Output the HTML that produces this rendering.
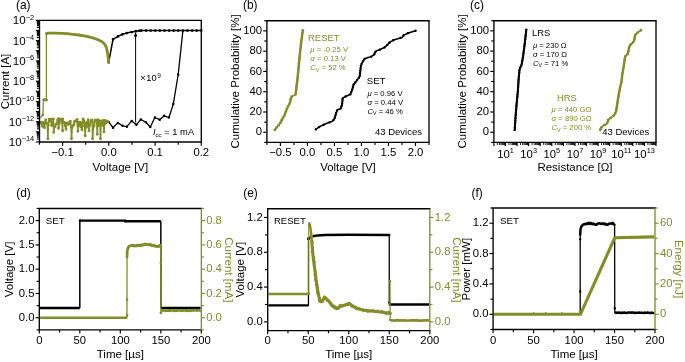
<!DOCTYPE html>
<html><head><meta charset="utf-8"><style>
html,body{margin:0;padding:0;background:#fff;}
svg{display:block;font-family:"Liberation Sans", sans-serif;will-change:transform;}
</style></head><body>
<svg width="685" height="362" viewBox="0 0 685 362">
<rect width="685" height="362" fill="#fff"/>
<text x="16" y="8.9" font-size="11.9" text-anchor="start" fill="#000" >(a)</text>
<line x1="39.5" y1="142" x2="35.83" y2="142" stroke="#000" stroke-width="1.15" stroke-linecap="butt"/>
<line x1="39.5" y1="131.86" x2="35.83" y2="131.86" stroke="#000" stroke-width="1.15" stroke-linecap="butt"/>
<line x1="39.5" y1="121.72" x2="35.83" y2="121.72" stroke="#000" stroke-width="1.15" stroke-linecap="butt"/>
<line x1="39.5" y1="111.59" x2="35.83" y2="111.59" stroke="#000" stroke-width="1.15" stroke-linecap="butt"/>
<line x1="39.5" y1="101.45" x2="35.83" y2="101.45" stroke="#000" stroke-width="1.15" stroke-linecap="butt"/>
<line x1="39.5" y1="91.31" x2="35.83" y2="91.31" stroke="#000" stroke-width="1.15" stroke-linecap="butt"/>
<line x1="39.5" y1="81.18" x2="35.83" y2="81.18" stroke="#000" stroke-width="1.15" stroke-linecap="butt"/>
<line x1="39.5" y1="71.04" x2="35.83" y2="71.04" stroke="#000" stroke-width="1.15" stroke-linecap="butt"/>
<line x1="39.5" y1="60.9" x2="35.83" y2="60.9" stroke="#000" stroke-width="1.15" stroke-linecap="butt"/>
<line x1="39.5" y1="50.76" x2="35.83" y2="50.76" stroke="#000" stroke-width="1.15" stroke-linecap="butt"/>
<line x1="39.5" y1="40.62" x2="35.83" y2="40.62" stroke="#000" stroke-width="1.15" stroke-linecap="butt"/>
<line x1="39.5" y1="30.49" x2="35.83" y2="30.49" stroke="#000" stroke-width="1.15" stroke-linecap="butt"/>
<line x1="39.5" y1="20.35" x2="35.83" y2="20.35" stroke="#000" stroke-width="1.15" stroke-linecap="butt"/>
<line x1="39.5" y1="138.95" x2="36.83" y2="138.95" stroke="#000" stroke-width="1.05" stroke-linecap="butt"/>
<line x1="39.5" y1="137.16" x2="36.83" y2="137.16" stroke="#000" stroke-width="1.05" stroke-linecap="butt"/>
<line x1="39.5" y1="135.9" x2="36.83" y2="135.9" stroke="#000" stroke-width="1.05" stroke-linecap="butt"/>
<line x1="39.5" y1="134.91" x2="36.83" y2="134.91" stroke="#000" stroke-width="1.05" stroke-linecap="butt"/>
<line x1="39.5" y1="134.11" x2="36.83" y2="134.11" stroke="#000" stroke-width="1.05" stroke-linecap="butt"/>
<line x1="39.5" y1="133.43" x2="36.83" y2="133.43" stroke="#000" stroke-width="1.05" stroke-linecap="butt"/>
<line x1="39.5" y1="132.84" x2="36.83" y2="132.84" stroke="#000" stroke-width="1.05" stroke-linecap="butt"/>
<line x1="39.5" y1="132.33" x2="36.83" y2="132.33" stroke="#000" stroke-width="1.05" stroke-linecap="butt"/>
<line x1="39.5" y1="128.81" x2="36.83" y2="128.81" stroke="#000" stroke-width="1.05" stroke-linecap="butt"/>
<line x1="39.5" y1="127.03" x2="36.83" y2="127.03" stroke="#000" stroke-width="1.05" stroke-linecap="butt"/>
<line x1="39.5" y1="125.76" x2="36.83" y2="125.76" stroke="#000" stroke-width="1.05" stroke-linecap="butt"/>
<line x1="39.5" y1="124.78" x2="36.83" y2="124.78" stroke="#000" stroke-width="1.05" stroke-linecap="butt"/>
<line x1="39.5" y1="123.97" x2="36.83" y2="123.97" stroke="#000" stroke-width="1.05" stroke-linecap="butt"/>
<line x1="39.5" y1="123.3" x2="36.83" y2="123.3" stroke="#000" stroke-width="1.05" stroke-linecap="butt"/>
<line x1="39.5" y1="122.71" x2="36.83" y2="122.71" stroke="#000" stroke-width="1.05" stroke-linecap="butt"/>
<line x1="39.5" y1="122.19" x2="36.83" y2="122.19" stroke="#000" stroke-width="1.05" stroke-linecap="butt"/>
<line x1="39.5" y1="118.67" x2="36.83" y2="118.67" stroke="#000" stroke-width="1.05" stroke-linecap="butt"/>
<line x1="39.5" y1="116.89" x2="36.83" y2="116.89" stroke="#000" stroke-width="1.05" stroke-linecap="butt"/>
<line x1="39.5" y1="115.62" x2="36.83" y2="115.62" stroke="#000" stroke-width="1.05" stroke-linecap="butt"/>
<line x1="39.5" y1="114.64" x2="36.83" y2="114.64" stroke="#000" stroke-width="1.05" stroke-linecap="butt"/>
<line x1="39.5" y1="113.84" x2="36.83" y2="113.84" stroke="#000" stroke-width="1.05" stroke-linecap="butt"/>
<line x1="39.5" y1="113.16" x2="36.83" y2="113.16" stroke="#000" stroke-width="1.05" stroke-linecap="butt"/>
<line x1="39.5" y1="112.57" x2="36.83" y2="112.57" stroke="#000" stroke-width="1.05" stroke-linecap="butt"/>
<line x1="39.5" y1="112.05" x2="36.83" y2="112.05" stroke="#000" stroke-width="1.05" stroke-linecap="butt"/>
<line x1="39.5" y1="108.54" x2="36.83" y2="108.54" stroke="#000" stroke-width="1.05" stroke-linecap="butt"/>
<line x1="39.5" y1="106.75" x2="36.83" y2="106.75" stroke="#000" stroke-width="1.05" stroke-linecap="butt"/>
<line x1="39.5" y1="105.48" x2="36.83" y2="105.48" stroke="#000" stroke-width="1.05" stroke-linecap="butt"/>
<line x1="39.5" y1="104.5" x2="36.83" y2="104.5" stroke="#000" stroke-width="1.05" stroke-linecap="butt"/>
<line x1="39.5" y1="103.7" x2="36.83" y2="103.7" stroke="#000" stroke-width="1.05" stroke-linecap="butt"/>
<line x1="39.5" y1="103.02" x2="36.83" y2="103.02" stroke="#000" stroke-width="1.05" stroke-linecap="butt"/>
<line x1="39.5" y1="102.43" x2="36.83" y2="102.43" stroke="#000" stroke-width="1.05" stroke-linecap="butt"/>
<line x1="39.5" y1="101.91" x2="36.83" y2="101.91" stroke="#000" stroke-width="1.05" stroke-linecap="butt"/>
<line x1="39.5" y1="98.4" x2="36.83" y2="98.4" stroke="#000" stroke-width="1.05" stroke-linecap="butt"/>
<line x1="39.5" y1="96.61" x2="36.83" y2="96.61" stroke="#000" stroke-width="1.05" stroke-linecap="butt"/>
<line x1="39.5" y1="95.35" x2="36.83" y2="95.35" stroke="#000" stroke-width="1.05" stroke-linecap="butt"/>
<line x1="39.5" y1="94.36" x2="36.83" y2="94.36" stroke="#000" stroke-width="1.05" stroke-linecap="butt"/>
<line x1="39.5" y1="93.56" x2="36.83" y2="93.56" stroke="#000" stroke-width="1.05" stroke-linecap="butt"/>
<line x1="39.5" y1="92.88" x2="36.83" y2="92.88" stroke="#000" stroke-width="1.05" stroke-linecap="butt"/>
<line x1="39.5" y1="92.29" x2="36.83" y2="92.29" stroke="#000" stroke-width="1.05" stroke-linecap="butt"/>
<line x1="39.5" y1="91.78" x2="36.83" y2="91.78" stroke="#000" stroke-width="1.05" stroke-linecap="butt"/>
<line x1="39.5" y1="88.26" x2="36.83" y2="88.26" stroke="#000" stroke-width="1.05" stroke-linecap="butt"/>
<line x1="39.5" y1="86.48" x2="36.83" y2="86.48" stroke="#000" stroke-width="1.05" stroke-linecap="butt"/>
<line x1="39.5" y1="85.21" x2="36.83" y2="85.21" stroke="#000" stroke-width="1.05" stroke-linecap="butt"/>
<line x1="39.5" y1="84.23" x2="36.83" y2="84.23" stroke="#000" stroke-width="1.05" stroke-linecap="butt"/>
<line x1="39.5" y1="83.42" x2="36.83" y2="83.42" stroke="#000" stroke-width="1.05" stroke-linecap="butt"/>
<line x1="39.5" y1="82.75" x2="36.83" y2="82.75" stroke="#000" stroke-width="1.05" stroke-linecap="butt"/>
<line x1="39.5" y1="82.16" x2="36.83" y2="82.16" stroke="#000" stroke-width="1.05" stroke-linecap="butt"/>
<line x1="39.5" y1="81.64" x2="36.83" y2="81.64" stroke="#000" stroke-width="1.05" stroke-linecap="butt"/>
<line x1="39.5" y1="78.12" x2="36.83" y2="78.12" stroke="#000" stroke-width="1.05" stroke-linecap="butt"/>
<line x1="39.5" y1="76.34" x2="36.83" y2="76.34" stroke="#000" stroke-width="1.05" stroke-linecap="butt"/>
<line x1="39.5" y1="75.07" x2="36.83" y2="75.07" stroke="#000" stroke-width="1.05" stroke-linecap="butt"/>
<line x1="39.5" y1="74.09" x2="36.83" y2="74.09" stroke="#000" stroke-width="1.05" stroke-linecap="butt"/>
<line x1="39.5" y1="73.29" x2="36.83" y2="73.29" stroke="#000" stroke-width="1.05" stroke-linecap="butt"/>
<line x1="39.5" y1="72.61" x2="36.83" y2="72.61" stroke="#000" stroke-width="1.05" stroke-linecap="butt"/>
<line x1="39.5" y1="72.02" x2="36.83" y2="72.02" stroke="#000" stroke-width="1.05" stroke-linecap="butt"/>
<line x1="39.5" y1="71.5" x2="36.83" y2="71.5" stroke="#000" stroke-width="1.05" stroke-linecap="butt"/>
<line x1="39.5" y1="67.99" x2="36.83" y2="67.99" stroke="#000" stroke-width="1.05" stroke-linecap="butt"/>
<line x1="39.5" y1="66.2" x2="36.83" y2="66.2" stroke="#000" stroke-width="1.05" stroke-linecap="butt"/>
<line x1="39.5" y1="64.93" x2="36.83" y2="64.93" stroke="#000" stroke-width="1.05" stroke-linecap="butt"/>
<line x1="39.5" y1="63.95" x2="36.83" y2="63.95" stroke="#000" stroke-width="1.05" stroke-linecap="butt"/>
<line x1="39.5" y1="63.15" x2="36.83" y2="63.15" stroke="#000" stroke-width="1.05" stroke-linecap="butt"/>
<line x1="39.5" y1="62.47" x2="36.83" y2="62.47" stroke="#000" stroke-width="1.05" stroke-linecap="butt"/>
<line x1="39.5" y1="61.88" x2="36.83" y2="61.88" stroke="#000" stroke-width="1.05" stroke-linecap="butt"/>
<line x1="39.5" y1="61.36" x2="36.83" y2="61.36" stroke="#000" stroke-width="1.05" stroke-linecap="butt"/>
<line x1="39.5" y1="57.85" x2="36.83" y2="57.85" stroke="#000" stroke-width="1.05" stroke-linecap="butt"/>
<line x1="39.5" y1="56.06" x2="36.83" y2="56.06" stroke="#000" stroke-width="1.05" stroke-linecap="butt"/>
<line x1="39.5" y1="54.8" x2="36.83" y2="54.8" stroke="#000" stroke-width="1.05" stroke-linecap="butt"/>
<line x1="39.5" y1="53.81" x2="36.83" y2="53.81" stroke="#000" stroke-width="1.05" stroke-linecap="butt"/>
<line x1="39.5" y1="53.01" x2="36.83" y2="53.01" stroke="#000" stroke-width="1.05" stroke-linecap="butt"/>
<line x1="39.5" y1="52.33" x2="36.83" y2="52.33" stroke="#000" stroke-width="1.05" stroke-linecap="butt"/>
<line x1="39.5" y1="51.74" x2="36.83" y2="51.74" stroke="#000" stroke-width="1.05" stroke-linecap="butt"/>
<line x1="39.5" y1="51.23" x2="36.83" y2="51.23" stroke="#000" stroke-width="1.05" stroke-linecap="butt"/>
<line x1="39.5" y1="47.71" x2="36.83" y2="47.71" stroke="#000" stroke-width="1.05" stroke-linecap="butt"/>
<line x1="39.5" y1="45.93" x2="36.83" y2="45.93" stroke="#000" stroke-width="1.05" stroke-linecap="butt"/>
<line x1="39.5" y1="44.66" x2="36.83" y2="44.66" stroke="#000" stroke-width="1.05" stroke-linecap="butt"/>
<line x1="39.5" y1="43.68" x2="36.83" y2="43.68" stroke="#000" stroke-width="1.05" stroke-linecap="butt"/>
<line x1="39.5" y1="42.87" x2="36.83" y2="42.87" stroke="#000" stroke-width="1.05" stroke-linecap="butt"/>
<line x1="39.5" y1="42.2" x2="36.83" y2="42.2" stroke="#000" stroke-width="1.05" stroke-linecap="butt"/>
<line x1="39.5" y1="41.61" x2="36.83" y2="41.61" stroke="#000" stroke-width="1.05" stroke-linecap="butt"/>
<line x1="39.5" y1="41.09" x2="36.83" y2="41.09" stroke="#000" stroke-width="1.05" stroke-linecap="butt"/>
<line x1="39.5" y1="37.57" x2="36.83" y2="37.57" stroke="#000" stroke-width="1.05" stroke-linecap="butt"/>
<line x1="39.5" y1="35.79" x2="36.83" y2="35.79" stroke="#000" stroke-width="1.05" stroke-linecap="butt"/>
<line x1="39.5" y1="34.52" x2="36.83" y2="34.52" stroke="#000" stroke-width="1.05" stroke-linecap="butt"/>
<line x1="39.5" y1="33.54" x2="36.83" y2="33.54" stroke="#000" stroke-width="1.05" stroke-linecap="butt"/>
<line x1="39.5" y1="32.74" x2="36.83" y2="32.74" stroke="#000" stroke-width="1.05" stroke-linecap="butt"/>
<line x1="39.5" y1="32.06" x2="36.83" y2="32.06" stroke="#000" stroke-width="1.05" stroke-linecap="butt"/>
<line x1="39.5" y1="31.47" x2="36.83" y2="31.47" stroke="#000" stroke-width="1.05" stroke-linecap="butt"/>
<line x1="39.5" y1="30.95" x2="36.83" y2="30.95" stroke="#000" stroke-width="1.05" stroke-linecap="butt"/>
<line x1="39.5" y1="27.44" x2="36.83" y2="27.44" stroke="#000" stroke-width="1.05" stroke-linecap="butt"/>
<line x1="39.5" y1="25.65" x2="36.83" y2="25.65" stroke="#000" stroke-width="1.05" stroke-linecap="butt"/>
<line x1="39.5" y1="24.38" x2="36.83" y2="24.38" stroke="#000" stroke-width="1.05" stroke-linecap="butt"/>
<line x1="39.5" y1="23.4" x2="36.83" y2="23.4" stroke="#000" stroke-width="1.05" stroke-linecap="butt"/>
<line x1="39.5" y1="22.6" x2="36.83" y2="22.6" stroke="#000" stroke-width="1.05" stroke-linecap="butt"/>
<line x1="39.5" y1="21.92" x2="36.83" y2="21.92" stroke="#000" stroke-width="1.05" stroke-linecap="butt"/>
<line x1="39.5" y1="21.33" x2="36.83" y2="21.33" stroke="#000" stroke-width="1.05" stroke-linecap="butt"/>
<line x1="39.5" y1="20.81" x2="36.83" y2="20.81" stroke="#000" stroke-width="1.05" stroke-linecap="butt"/>
<text x="34.2" y="146" font-size="11.6" text-anchor="end">10<tspan font-size="7.4" dy="-4.8">−14</tspan></text>
<text x="34.2" y="125.72" font-size="11.6" text-anchor="end">10<tspan font-size="7.4" dy="-4.8">−12</tspan></text>
<text x="34.2" y="105.45" font-size="11.6" text-anchor="end">10<tspan font-size="7.4" dy="-4.8">−10</tspan></text>
<text x="34.2" y="85.18" font-size="11.6" text-anchor="end">10<tspan font-size="7.4" dy="-4.8">−8</tspan></text>
<text x="34.2" y="64.9" font-size="11.6" text-anchor="end">10<tspan font-size="7.4" dy="-4.8">−6</tspan></text>
<text x="34.2" y="44.62" font-size="11.6" text-anchor="end">10<tspan font-size="7.4" dy="-4.8">−4</tspan></text>
<text x="34.2" y="24.35" font-size="11.6" text-anchor="end">10<tspan font-size="7.4" dy="-4.8">−2</tspan></text>
<line x1="39.5" y1="142" x2="39.5" y2="144.68" stroke="#000" stroke-width="1.15" stroke-linecap="butt"/>
<line x1="85.73" y1="142" x2="85.73" y2="144.68" stroke="#000" stroke-width="1.15" stroke-linecap="butt"/>
<line x1="131.96" y1="142" x2="131.96" y2="144.68" stroke="#000" stroke-width="1.15" stroke-linecap="butt"/>
<line x1="178.19" y1="142" x2="178.19" y2="144.68" stroke="#000" stroke-width="1.15" stroke-linecap="butt"/>
<line x1="62.61" y1="142" x2="62.61" y2="145.68" stroke="#000" stroke-width="1.15" stroke-linecap="butt"/>
<line x1="108.84" y1="142" x2="108.84" y2="145.68" stroke="#000" stroke-width="1.15" stroke-linecap="butt"/>
<line x1="155.07" y1="142" x2="155.07" y2="145.68" stroke="#000" stroke-width="1.15" stroke-linecap="butt"/>
<line x1="201.3" y1="142" x2="201.3" y2="145.68" stroke="#000" stroke-width="1.15" stroke-linecap="butt"/>
<text x="62.61" y="155.8" font-size="11.3" text-anchor="middle" fill="#000" >−0.1</text>
<text x="108.84" y="155.8" font-size="11.3" text-anchor="middle" fill="#000" >0.0</text>
<text x="155.07" y="155.8" font-size="11.3" text-anchor="middle" fill="#000" >0.1</text>
<text x="201.3" y="155.8" font-size="11.3" text-anchor="middle" fill="#000" >0.2</text>
<text x="120.4" y="171" font-size="11.5" text-anchor="middle" fill="#000" >Voltage [V]</text>
<text transform="translate(9.1,81.5) rotate(-90)" font-size="11.5" text-anchor="middle" fill="#000">Current [A]</text>
<polyline points="108.7,62.3 113,39.3 118,36.4 122.4,34.3 126.7,33.1 131.7,32.1 136,31.2 139.5,30.7 141.5,30.6 146.1,30.6 150.7,30.6 155.3,30.6 159.9,30.6 164.5,30.6 169.1,30.6 173.7,30.6 178.3,30.6 182.9,30.6 187.5,30.6 192.1,30.6 196.7,30.6 201.3,30.6" fill="none" stroke="#000" stroke-width="1.5" stroke-linejoin="round" stroke-linecap="round"/>
<path d="M107.35,62.3a1.35,1.35 0 1,0 2.7,0a1.35,1.35 0 1,0 -2.7,0M111.65,39.3a1.35,1.35 0 1,0 2.7,0a1.35,1.35 0 1,0 -2.7,0M116.65,36.4a1.35,1.35 0 1,0 2.7,0a1.35,1.35 0 1,0 -2.7,0M121.05,34.3a1.35,1.35 0 1,0 2.7,0a1.35,1.35 0 1,0 -2.7,0M125.35,33.1a1.35,1.35 0 1,0 2.7,0a1.35,1.35 0 1,0 -2.7,0M130.35,32.1a1.35,1.35 0 1,0 2.7,0a1.35,1.35 0 1,0 -2.7,0M134.65,31.2a1.35,1.35 0 1,0 2.7,0a1.35,1.35 0 1,0 -2.7,0M138.15,30.7a1.35,1.35 0 1,0 2.7,0a1.35,1.35 0 1,0 -2.7,0M140.15,30.6a1.35,1.35 0 1,0 2.7,0a1.35,1.35 0 1,0 -2.7,0M144.75,30.6a1.35,1.35 0 1,0 2.7,0a1.35,1.35 0 1,0 -2.7,0M149.35,30.6a1.35,1.35 0 1,0 2.7,0a1.35,1.35 0 1,0 -2.7,0M153.95,30.6a1.35,1.35 0 1,0 2.7,0a1.35,1.35 0 1,0 -2.7,0M158.55,30.6a1.35,1.35 0 1,0 2.7,0a1.35,1.35 0 1,0 -2.7,0M163.15,30.6a1.35,1.35 0 1,0 2.7,0a1.35,1.35 0 1,0 -2.7,0M167.75,30.6a1.35,1.35 0 1,0 2.7,0a1.35,1.35 0 1,0 -2.7,0M172.35,30.6a1.35,1.35 0 1,0 2.7,0a1.35,1.35 0 1,0 -2.7,0M176.95,30.6a1.35,1.35 0 1,0 2.7,0a1.35,1.35 0 1,0 -2.7,0M181.55,30.6a1.35,1.35 0 1,0 2.7,0a1.35,1.35 0 1,0 -2.7,0M186.15,30.6a1.35,1.35 0 1,0 2.7,0a1.35,1.35 0 1,0 -2.7,0M190.75,30.6a1.35,1.35 0 1,0 2.7,0a1.35,1.35 0 1,0 -2.7,0M195.35,30.6a1.35,1.35 0 1,0 2.7,0a1.35,1.35 0 1,0 -2.7,0M199.95,30.6a1.35,1.35 0 1,0 2.7,0a1.35,1.35 0 1,0 -2.7,0" fill="#000"/>
<polyline points="182.9,30.6 178.2,74.5 173.3,104.1 168.9,117.5 164.1,115.8 159.7,119.7 154.9,117.5 150.3,127 145.9,122.3 140.8,119.4 136.4,124.8 131.7,120.9 126.9,126.7 122.5,125.8 117.8,122.9 113,127.7 108.6,121.9" fill="none" stroke="#000" stroke-width="1.3" stroke-linejoin="round" stroke-linecap="round"/>
<path d="M176.95,74.5a1.25,1.25 0 1,0 2.5,0a1.25,1.25 0 1,0 -2.5,0M172.05,104.1a1.25,1.25 0 1,0 2.5,0a1.25,1.25 0 1,0 -2.5,0M167.65,117.5a1.25,1.25 0 1,0 2.5,0a1.25,1.25 0 1,0 -2.5,0M162.85,115.8a1.25,1.25 0 1,0 2.5,0a1.25,1.25 0 1,0 -2.5,0M158.45,119.7a1.25,1.25 0 1,0 2.5,0a1.25,1.25 0 1,0 -2.5,0M153.65,117.5a1.25,1.25 0 1,0 2.5,0a1.25,1.25 0 1,0 -2.5,0M149.05,127a1.25,1.25 0 1,0 2.5,0a1.25,1.25 0 1,0 -2.5,0M144.65,122.3a1.25,1.25 0 1,0 2.5,0a1.25,1.25 0 1,0 -2.5,0M139.55,119.4a1.25,1.25 0 1,0 2.5,0a1.25,1.25 0 1,0 -2.5,0M135.15,124.8a1.25,1.25 0 1,0 2.5,0a1.25,1.25 0 1,0 -2.5,0M130.45,120.9a1.25,1.25 0 1,0 2.5,0a1.25,1.25 0 1,0 -2.5,0M125.65,126.7a1.25,1.25 0 1,0 2.5,0a1.25,1.25 0 1,0 -2.5,0M121.25,125.8a1.25,1.25 0 1,0 2.5,0a1.25,1.25 0 1,0 -2.5,0M116.55,122.9a1.25,1.25 0 1,0 2.5,0a1.25,1.25 0 1,0 -2.5,0M111.75,127.7a1.25,1.25 0 1,0 2.5,0a1.25,1.25 0 1,0 -2.5,0M107.35,121.9a1.25,1.25 0 1,0 2.5,0a1.25,1.25 0 1,0 -2.5,0" fill="#000"/>
<polyline points="108.7,62.3 108.3,59.1 107.9,55 107.3,51.4 106.6,48.3 105.7,45.9 104,43.5 101.8,41.5 98.5,39.9 95.2,38.7 90,37.2 84.2,35.9 78.5,35 73.1,34.3 67,33.7 62.1,33.3 55,33.1 48,33.1 46.4,33.6" fill="none" stroke="#838d28" stroke-width="2.8" stroke-linejoin="round" stroke-linecap="round"/>
<polyline points="46.4,33.6 46.4,100 43.5,99.7 43.1,108 42.8,114.9 40.6,117.6" fill="none" stroke="#838d28" stroke-width="1.3" stroke-linejoin="round" stroke-linecap="round"/>
<polyline points="46.4,100 43.5,99.7" fill="none" stroke="#838d28" stroke-width="2.5" stroke-linejoin="round" stroke-linecap="round"/>
<path d="M107.3,62.3a1.4,1.4 0 1,0 2.8,0a1.4,1.4 0 1,0 -2.8,0M45,100a1.4,1.4 0 1,0 2.8,0a1.4,1.4 0 1,0 -2.8,0M43.1,99.7a1.4,1.4 0 1,0 2.8,0a1.4,1.4 0 1,0 -2.8,0M41.4,114.9a1.4,1.4 0 1,0 2.8,0a1.4,1.4 0 1,0 -2.8,0M45.6,33.3a1.4,1.4 0 1,0 2.8,0a1.4,1.4 0 1,0 -2.8,0" fill="#838d28"/>
<path d="M107.3,60a1.2,1.2 0 1,0 2.4,0a1.2,1.2 0 1,0 -2.4,0M107,57.5a1.2,1.2 0 1,0 2.4,0a1.2,1.2 0 1,0 -2.4,0" fill="#838d28"/>
<polyline points="40.6,122.24 41.45,123.19 42.3,126.36 43.15,122.39 44,122.77 44.5,127.8 44.85,123.47 45.7,120 46.55,122.83 47.4,123.86 47.9,138.8 48.25,125.28 49.1,119.27 49.95,121.08 50.8,119.27 51.65,125.45 52.5,124.46 53.35,118.89 53.7,132.3 54.2,126.95 55.05,126.81 55.9,124.16 56.75,123.84 57.6,119.95 58.45,118.75 58.5,128.3 59.3,123.13 60.15,119.16 61,120.28 61.85,120.74 62.6,130.8 62.7,118.96 63.55,122.64 64.4,122.45 65.25,125.86 66,129.3 66.1,123.14 66.95,124.17 67.8,123 68.65,124.37 69.5,122.66 70.35,121.17 71.2,127.21 71.5,138.8 72.05,127.2 72.9,125.91 73.75,124.81 74.6,121.54 75.45,120.84 76.3,121.35 77.15,119.54 77.9,131.3 78,125.34 78.85,122.31 79.7,126.02 80.55,122.22 81.4,126.96 82,129.8 82.25,126.05 83.1,119.07 83.95,120.81 84.8,126.59 85.2,135.8 85.65,122.97 86.5,127.18 87.35,122.4 88.2,119.75 89,130.8 89.05,124.32 89.9,125.55 90.75,121.4 91.6,119.92 92.45,121.94 92.6,138.8 93.3,127.1 94.15,125.43 95,120.23 95.85,121.29 96.7,120.12 97.3,134.3 97.55,119.8 98.4,125.79 99.25,120.78 100.1,123.88 100.5,138.8 100.95,122.99 101.8,120.93 102.65,125.3 103.5,120.47 104,131.8 104.35,124.61 105.2,120.39 106.05,122.84 106.9,121.19 107.75,121.65" fill="none" stroke="#838d28" stroke-width="1.7" stroke-linejoin="round" stroke-linecap="round"/>
<path d="M39.15,122.24a1.45,1.45 0 1,0 2.9,0a1.45,1.45 0 1,0 -2.9,0M40,123.19a1.45,1.45 0 1,0 2.9,0a1.45,1.45 0 1,0 -2.9,0M40.85,126.36a1.45,1.45 0 1,0 2.9,0a1.45,1.45 0 1,0 -2.9,0M41.7,122.39a1.45,1.45 0 1,0 2.9,0a1.45,1.45 0 1,0 -2.9,0M42.55,122.77a1.45,1.45 0 1,0 2.9,0a1.45,1.45 0 1,0 -2.9,0M43.05,127.8a1.45,1.45 0 1,0 2.9,0a1.45,1.45 0 1,0 -2.9,0M43.4,123.47a1.45,1.45 0 1,0 2.9,0a1.45,1.45 0 1,0 -2.9,0M44.25,120a1.45,1.45 0 1,0 2.9,0a1.45,1.45 0 1,0 -2.9,0M45.1,122.83a1.45,1.45 0 1,0 2.9,0a1.45,1.45 0 1,0 -2.9,0M45.95,123.86a1.45,1.45 0 1,0 2.9,0a1.45,1.45 0 1,0 -2.9,0M46.45,138.8a1.45,1.45 0 1,0 2.9,0a1.45,1.45 0 1,0 -2.9,0M46.8,125.28a1.45,1.45 0 1,0 2.9,0a1.45,1.45 0 1,0 -2.9,0M47.65,119.27a1.45,1.45 0 1,0 2.9,0a1.45,1.45 0 1,0 -2.9,0M48.5,121.08a1.45,1.45 0 1,0 2.9,0a1.45,1.45 0 1,0 -2.9,0M49.35,119.27a1.45,1.45 0 1,0 2.9,0a1.45,1.45 0 1,0 -2.9,0M50.2,125.45a1.45,1.45 0 1,0 2.9,0a1.45,1.45 0 1,0 -2.9,0M51.05,124.46a1.45,1.45 0 1,0 2.9,0a1.45,1.45 0 1,0 -2.9,0M51.9,118.89a1.45,1.45 0 1,0 2.9,0a1.45,1.45 0 1,0 -2.9,0M52.25,132.3a1.45,1.45 0 1,0 2.9,0a1.45,1.45 0 1,0 -2.9,0M52.75,126.95a1.45,1.45 0 1,0 2.9,0a1.45,1.45 0 1,0 -2.9,0M53.6,126.81a1.45,1.45 0 1,0 2.9,0a1.45,1.45 0 1,0 -2.9,0M54.45,124.16a1.45,1.45 0 1,0 2.9,0a1.45,1.45 0 1,0 -2.9,0M55.3,123.84a1.45,1.45 0 1,0 2.9,0a1.45,1.45 0 1,0 -2.9,0M56.15,119.95a1.45,1.45 0 1,0 2.9,0a1.45,1.45 0 1,0 -2.9,0M57,118.75a1.45,1.45 0 1,0 2.9,0a1.45,1.45 0 1,0 -2.9,0M57.05,128.3a1.45,1.45 0 1,0 2.9,0a1.45,1.45 0 1,0 -2.9,0M57.85,123.13a1.45,1.45 0 1,0 2.9,0a1.45,1.45 0 1,0 -2.9,0M58.7,119.16a1.45,1.45 0 1,0 2.9,0a1.45,1.45 0 1,0 -2.9,0M59.55,120.28a1.45,1.45 0 1,0 2.9,0a1.45,1.45 0 1,0 -2.9,0M60.4,120.74a1.45,1.45 0 1,0 2.9,0a1.45,1.45 0 1,0 -2.9,0M61.15,130.8a1.45,1.45 0 1,0 2.9,0a1.45,1.45 0 1,0 -2.9,0M61.25,118.96a1.45,1.45 0 1,0 2.9,0a1.45,1.45 0 1,0 -2.9,0M62.1,122.64a1.45,1.45 0 1,0 2.9,0a1.45,1.45 0 1,0 -2.9,0M62.95,122.45a1.45,1.45 0 1,0 2.9,0a1.45,1.45 0 1,0 -2.9,0M63.8,125.86a1.45,1.45 0 1,0 2.9,0a1.45,1.45 0 1,0 -2.9,0M64.55,129.3a1.45,1.45 0 1,0 2.9,0a1.45,1.45 0 1,0 -2.9,0M64.65,123.14a1.45,1.45 0 1,0 2.9,0a1.45,1.45 0 1,0 -2.9,0M65.5,124.17a1.45,1.45 0 1,0 2.9,0a1.45,1.45 0 1,0 -2.9,0M66.35,123a1.45,1.45 0 1,0 2.9,0a1.45,1.45 0 1,0 -2.9,0M67.2,124.37a1.45,1.45 0 1,0 2.9,0a1.45,1.45 0 1,0 -2.9,0M68.05,122.66a1.45,1.45 0 1,0 2.9,0a1.45,1.45 0 1,0 -2.9,0M68.9,121.17a1.45,1.45 0 1,0 2.9,0a1.45,1.45 0 1,0 -2.9,0M69.75,127.21a1.45,1.45 0 1,0 2.9,0a1.45,1.45 0 1,0 -2.9,0M70.05,138.8a1.45,1.45 0 1,0 2.9,0a1.45,1.45 0 1,0 -2.9,0M70.6,127.2a1.45,1.45 0 1,0 2.9,0a1.45,1.45 0 1,0 -2.9,0M71.45,125.91a1.45,1.45 0 1,0 2.9,0a1.45,1.45 0 1,0 -2.9,0M72.3,124.81a1.45,1.45 0 1,0 2.9,0a1.45,1.45 0 1,0 -2.9,0M73.15,121.54a1.45,1.45 0 1,0 2.9,0a1.45,1.45 0 1,0 -2.9,0M74,120.84a1.45,1.45 0 1,0 2.9,0a1.45,1.45 0 1,0 -2.9,0M74.85,121.35a1.45,1.45 0 1,0 2.9,0a1.45,1.45 0 1,0 -2.9,0M75.7,119.54a1.45,1.45 0 1,0 2.9,0a1.45,1.45 0 1,0 -2.9,0M76.45,131.3a1.45,1.45 0 1,0 2.9,0a1.45,1.45 0 1,0 -2.9,0M76.55,125.34a1.45,1.45 0 1,0 2.9,0a1.45,1.45 0 1,0 -2.9,0M77.4,122.31a1.45,1.45 0 1,0 2.9,0a1.45,1.45 0 1,0 -2.9,0M78.25,126.02a1.45,1.45 0 1,0 2.9,0a1.45,1.45 0 1,0 -2.9,0M79.1,122.22a1.45,1.45 0 1,0 2.9,0a1.45,1.45 0 1,0 -2.9,0M79.95,126.96a1.45,1.45 0 1,0 2.9,0a1.45,1.45 0 1,0 -2.9,0M80.55,129.8a1.45,1.45 0 1,0 2.9,0a1.45,1.45 0 1,0 -2.9,0M80.8,126.05a1.45,1.45 0 1,0 2.9,0a1.45,1.45 0 1,0 -2.9,0M81.65,119.07a1.45,1.45 0 1,0 2.9,0a1.45,1.45 0 1,0 -2.9,0M82.5,120.81a1.45,1.45 0 1,0 2.9,0a1.45,1.45 0 1,0 -2.9,0M83.35,126.59a1.45,1.45 0 1,0 2.9,0a1.45,1.45 0 1,0 -2.9,0M83.75,135.8a1.45,1.45 0 1,0 2.9,0a1.45,1.45 0 1,0 -2.9,0M84.2,122.97a1.45,1.45 0 1,0 2.9,0a1.45,1.45 0 1,0 -2.9,0M85.05,127.18a1.45,1.45 0 1,0 2.9,0a1.45,1.45 0 1,0 -2.9,0M85.9,122.4a1.45,1.45 0 1,0 2.9,0a1.45,1.45 0 1,0 -2.9,0M86.75,119.75a1.45,1.45 0 1,0 2.9,0a1.45,1.45 0 1,0 -2.9,0M87.55,130.8a1.45,1.45 0 1,0 2.9,0a1.45,1.45 0 1,0 -2.9,0M87.6,124.32a1.45,1.45 0 1,0 2.9,0a1.45,1.45 0 1,0 -2.9,0M88.45,125.55a1.45,1.45 0 1,0 2.9,0a1.45,1.45 0 1,0 -2.9,0M89.3,121.4a1.45,1.45 0 1,0 2.9,0a1.45,1.45 0 1,0 -2.9,0M90.15,119.92a1.45,1.45 0 1,0 2.9,0a1.45,1.45 0 1,0 -2.9,0M91,121.94a1.45,1.45 0 1,0 2.9,0a1.45,1.45 0 1,0 -2.9,0M91.15,138.8a1.45,1.45 0 1,0 2.9,0a1.45,1.45 0 1,0 -2.9,0M91.85,127.1a1.45,1.45 0 1,0 2.9,0a1.45,1.45 0 1,0 -2.9,0M92.7,125.43a1.45,1.45 0 1,0 2.9,0a1.45,1.45 0 1,0 -2.9,0M93.55,120.23a1.45,1.45 0 1,0 2.9,0a1.45,1.45 0 1,0 -2.9,0M94.4,121.29a1.45,1.45 0 1,0 2.9,0a1.45,1.45 0 1,0 -2.9,0M95.25,120.12a1.45,1.45 0 1,0 2.9,0a1.45,1.45 0 1,0 -2.9,0M95.85,134.3a1.45,1.45 0 1,0 2.9,0a1.45,1.45 0 1,0 -2.9,0M96.1,119.8a1.45,1.45 0 1,0 2.9,0a1.45,1.45 0 1,0 -2.9,0M96.95,125.79a1.45,1.45 0 1,0 2.9,0a1.45,1.45 0 1,0 -2.9,0M97.8,120.78a1.45,1.45 0 1,0 2.9,0a1.45,1.45 0 1,0 -2.9,0M98.65,123.88a1.45,1.45 0 1,0 2.9,0a1.45,1.45 0 1,0 -2.9,0M99.05,138.8a1.45,1.45 0 1,0 2.9,0a1.45,1.45 0 1,0 -2.9,0M99.5,122.99a1.45,1.45 0 1,0 2.9,0a1.45,1.45 0 1,0 -2.9,0M100.35,120.93a1.45,1.45 0 1,0 2.9,0a1.45,1.45 0 1,0 -2.9,0M101.2,125.3a1.45,1.45 0 1,0 2.9,0a1.45,1.45 0 1,0 -2.9,0M102.05,120.47a1.45,1.45 0 1,0 2.9,0a1.45,1.45 0 1,0 -2.9,0M102.55,131.8a1.45,1.45 0 1,0 2.9,0a1.45,1.45 0 1,0 -2.9,0M102.9,124.61a1.45,1.45 0 1,0 2.9,0a1.45,1.45 0 1,0 -2.9,0M103.75,120.39a1.45,1.45 0 1,0 2.9,0a1.45,1.45 0 1,0 -2.9,0M104.6,122.84a1.45,1.45 0 1,0 2.9,0a1.45,1.45 0 1,0 -2.9,0M105.45,121.19a1.45,1.45 0 1,0 2.9,0a1.45,1.45 0 1,0 -2.9,0M106.3,121.65a1.45,1.45 0 1,0 2.9,0a1.45,1.45 0 1,0 -2.9,0" fill="#838d28"/>
<line x1="135.6" y1="35.5" x2="135.6" y2="122.5" stroke="#000" stroke-width="1.0" stroke-linecap="butt"/>
<path d="M135.6,31.8 L133.8,36.4 L137.4,36.4 Z" fill="#000"/>
<text x="140.2" y="81.2" font-size="9.3">×<tspan dx="0.7">10</tspan><tspan font-size="6.5" dy="-2.9" dx="0.6">9</tspan></text>
<text x="153.0" y="135.0" font-size="9.4"><tspan font-style="italic">I</tspan><tspan font-size="6.0" dy="2.4">cc</tspan><tspan dy="-2.4"> = 1 mA</tspan></text>
<text x="243" y="8.9" font-size="11.9" text-anchor="start" fill="#000" >(b)</text>
<line x1="266.9" y1="142.4" x2="264.22" y2="142.4" stroke="#000" stroke-width="1.15" stroke-linecap="butt"/>
<line x1="266.9" y1="122.12" x2="264.22" y2="122.12" stroke="#000" stroke-width="1.15" stroke-linecap="butt"/>
<line x1="266.9" y1="101.85" x2="264.22" y2="101.85" stroke="#000" stroke-width="1.15" stroke-linecap="butt"/>
<line x1="266.9" y1="81.57" x2="264.22" y2="81.57" stroke="#000" stroke-width="1.15" stroke-linecap="butt"/>
<line x1="266.9" y1="61.3" x2="264.22" y2="61.3" stroke="#000" stroke-width="1.15" stroke-linecap="butt"/>
<line x1="266.9" y1="41.02" x2="264.22" y2="41.02" stroke="#000" stroke-width="1.15" stroke-linecap="butt"/>
<line x1="266.9" y1="20.75" x2="264.22" y2="20.75" stroke="#000" stroke-width="1.15" stroke-linecap="butt"/>
<line x1="266.9" y1="132.26" x2="263.22" y2="132.26" stroke="#000" stroke-width="1.15" stroke-linecap="butt"/>
<line x1="266.9" y1="111.99" x2="263.22" y2="111.99" stroke="#000" stroke-width="1.15" stroke-linecap="butt"/>
<line x1="266.9" y1="91.71" x2="263.22" y2="91.71" stroke="#000" stroke-width="1.15" stroke-linecap="butt"/>
<line x1="266.9" y1="71.44" x2="263.22" y2="71.44" stroke="#000" stroke-width="1.15" stroke-linecap="butt"/>
<line x1="266.9" y1="51.16" x2="263.22" y2="51.16" stroke="#000" stroke-width="1.15" stroke-linecap="butt"/>
<line x1="266.9" y1="30.89" x2="263.22" y2="30.89" stroke="#000" stroke-width="1.15" stroke-linecap="butt"/>
<text x="262" y="135.36" font-size="11.3" text-anchor="end" fill="#000" >0</text>
<text x="262" y="115.09" font-size="11.3" text-anchor="end" fill="#000" >20</text>
<text x="262" y="94.81" font-size="11.3" text-anchor="end" fill="#000" >40</text>
<text x="262" y="74.54" font-size="11.3" text-anchor="end" fill="#000" >60</text>
<text x="262" y="54.26" font-size="11.3" text-anchor="end" fill="#000" >80</text>
<text x="262" y="33.99" font-size="11.3" text-anchor="end" fill="#000" >100</text>
<line x1="266.9" y1="142.4" x2="266.9" y2="145.08" stroke="#000" stroke-width="1.15" stroke-linecap="butt"/>
<line x1="293.92" y1="142.4" x2="293.92" y2="145.08" stroke="#000" stroke-width="1.15" stroke-linecap="butt"/>
<line x1="320.93" y1="142.4" x2="320.93" y2="145.08" stroke="#000" stroke-width="1.15" stroke-linecap="butt"/>
<line x1="347.95" y1="142.4" x2="347.95" y2="145.08" stroke="#000" stroke-width="1.15" stroke-linecap="butt"/>
<line x1="374.97" y1="142.4" x2="374.97" y2="145.08" stroke="#000" stroke-width="1.15" stroke-linecap="butt"/>
<line x1="401.98" y1="142.4" x2="401.98" y2="145.08" stroke="#000" stroke-width="1.15" stroke-linecap="butt"/>
<line x1="429" y1="142.4" x2="429" y2="145.08" stroke="#000" stroke-width="1.15" stroke-linecap="butt"/>
<line x1="280.41" y1="142.4" x2="280.41" y2="146.08" stroke="#000" stroke-width="1.15" stroke-linecap="butt"/>
<line x1="307.42" y1="142.4" x2="307.42" y2="146.08" stroke="#000" stroke-width="1.15" stroke-linecap="butt"/>
<line x1="334.44" y1="142.4" x2="334.44" y2="146.08" stroke="#000" stroke-width="1.15" stroke-linecap="butt"/>
<line x1="361.46" y1="142.4" x2="361.46" y2="146.08" stroke="#000" stroke-width="1.15" stroke-linecap="butt"/>
<line x1="388.48" y1="142.4" x2="388.48" y2="146.08" stroke="#000" stroke-width="1.15" stroke-linecap="butt"/>
<line x1="415.49" y1="142.4" x2="415.49" y2="146.08" stroke="#000" stroke-width="1.15" stroke-linecap="butt"/>
<text x="280.41" y="155.8" font-size="11.3" text-anchor="middle" fill="#000" >−0.5</text>
<text x="307.42" y="155.8" font-size="11.3" text-anchor="middle" fill="#000" >0.0</text>
<text x="334.44" y="155.8" font-size="11.3" text-anchor="middle" fill="#000" >0.5</text>
<text x="361.46" y="155.8" font-size="11.3" text-anchor="middle" fill="#000" >1.0</text>
<text x="388.48" y="155.8" font-size="11.3" text-anchor="middle" fill="#000" >1.5</text>
<text x="415.49" y="155.8" font-size="11.3" text-anchor="middle" fill="#000" >2.0</text>
<text x="347.95" y="171" font-size="11.5" text-anchor="middle" fill="#000" >Voltage [V]</text>
<text transform="translate(238.7,81.4) rotate(-90)" font-size="11.5" text-anchor="middle" fill="#000">Cumulative Probability [%]</text>
<polyline points="274.8,129.9 276.69,127.53 278.62,125.17 280.5,122.8 281.62,120.43 282.85,118.07 284.31,115.7 285.19,113.33 286,110.97 287.04,108.6 288.1,106.23 289.49,103.87 290.25,101.5 290.64,99.13 291.72,96.77 295.5,94.4 295.92,92.03 296.27,89.67 296.47,87.3 296.72,84.93 297.05,82.57 297.37,80.2 297.61,77.83 297.83,75.47 298.06,73.1 298.29,70.73 298.51,68.37 298.73,66 298.96,63.63 299.18,61.27 299.41,58.9 299.66,56.53 299.9,54.17 300.14,51.8 300.39,49.43 300.66,47.07 300.94,44.7 301.22,42.33 301.5,39.97 301.83,37.6 302.15,35.23 302.48,32.87 302.8,30.5" fill="none" stroke="#838d28" stroke-width="1.7" stroke-linejoin="round" stroke-linecap="round"/>
<path d="M273.35,129.9a1.45,1.45 0 1,0 2.9,0a1.45,1.45 0 1,0 -2.9,0M275.24,127.53a1.45,1.45 0 1,0 2.9,0a1.45,1.45 0 1,0 -2.9,0M277.17,125.17a1.45,1.45 0 1,0 2.9,0a1.45,1.45 0 1,0 -2.9,0M279.05,122.8a1.45,1.45 0 1,0 2.9,0a1.45,1.45 0 1,0 -2.9,0M280.17,120.43a1.45,1.45 0 1,0 2.9,0a1.45,1.45 0 1,0 -2.9,0M281.4,118.07a1.45,1.45 0 1,0 2.9,0a1.45,1.45 0 1,0 -2.9,0M282.86,115.7a1.45,1.45 0 1,0 2.9,0a1.45,1.45 0 1,0 -2.9,0M283.74,113.33a1.45,1.45 0 1,0 2.9,0a1.45,1.45 0 1,0 -2.9,0M284.55,110.97a1.45,1.45 0 1,0 2.9,0a1.45,1.45 0 1,0 -2.9,0M285.59,108.6a1.45,1.45 0 1,0 2.9,0a1.45,1.45 0 1,0 -2.9,0M286.65,106.23a1.45,1.45 0 1,0 2.9,0a1.45,1.45 0 1,0 -2.9,0M288.04,103.87a1.45,1.45 0 1,0 2.9,0a1.45,1.45 0 1,0 -2.9,0M288.8,101.5a1.45,1.45 0 1,0 2.9,0a1.45,1.45 0 1,0 -2.9,0M289.19,99.13a1.45,1.45 0 1,0 2.9,0a1.45,1.45 0 1,0 -2.9,0M290.27,96.77a1.45,1.45 0 1,0 2.9,0a1.45,1.45 0 1,0 -2.9,0M294.05,94.4a1.45,1.45 0 1,0 2.9,0a1.45,1.45 0 1,0 -2.9,0M294.47,92.03a1.45,1.45 0 1,0 2.9,0a1.45,1.45 0 1,0 -2.9,0M294.82,89.67a1.45,1.45 0 1,0 2.9,0a1.45,1.45 0 1,0 -2.9,0M295.02,87.3a1.45,1.45 0 1,0 2.9,0a1.45,1.45 0 1,0 -2.9,0M295.27,84.93a1.45,1.45 0 1,0 2.9,0a1.45,1.45 0 1,0 -2.9,0M295.6,82.57a1.45,1.45 0 1,0 2.9,0a1.45,1.45 0 1,0 -2.9,0M295.92,80.2a1.45,1.45 0 1,0 2.9,0a1.45,1.45 0 1,0 -2.9,0M296.16,77.83a1.45,1.45 0 1,0 2.9,0a1.45,1.45 0 1,0 -2.9,0M296.38,75.47a1.45,1.45 0 1,0 2.9,0a1.45,1.45 0 1,0 -2.9,0M296.61,73.1a1.45,1.45 0 1,0 2.9,0a1.45,1.45 0 1,0 -2.9,0M296.84,70.73a1.45,1.45 0 1,0 2.9,0a1.45,1.45 0 1,0 -2.9,0M297.06,68.37a1.45,1.45 0 1,0 2.9,0a1.45,1.45 0 1,0 -2.9,0M297.28,66a1.45,1.45 0 1,0 2.9,0a1.45,1.45 0 1,0 -2.9,0M297.51,63.63a1.45,1.45 0 1,0 2.9,0a1.45,1.45 0 1,0 -2.9,0M297.73,61.27a1.45,1.45 0 1,0 2.9,0a1.45,1.45 0 1,0 -2.9,0M297.96,58.9a1.45,1.45 0 1,0 2.9,0a1.45,1.45 0 1,0 -2.9,0M298.21,56.53a1.45,1.45 0 1,0 2.9,0a1.45,1.45 0 1,0 -2.9,0M298.45,54.17a1.45,1.45 0 1,0 2.9,0a1.45,1.45 0 1,0 -2.9,0M298.69,51.8a1.45,1.45 0 1,0 2.9,0a1.45,1.45 0 1,0 -2.9,0M298.94,49.43a1.45,1.45 0 1,0 2.9,0a1.45,1.45 0 1,0 -2.9,0M299.21,47.07a1.45,1.45 0 1,0 2.9,0a1.45,1.45 0 1,0 -2.9,0M299.49,44.7a1.45,1.45 0 1,0 2.9,0a1.45,1.45 0 1,0 -2.9,0M299.77,42.33a1.45,1.45 0 1,0 2.9,0a1.45,1.45 0 1,0 -2.9,0M300.05,39.97a1.45,1.45 0 1,0 2.9,0a1.45,1.45 0 1,0 -2.9,0M300.38,37.6a1.45,1.45 0 1,0 2.9,0a1.45,1.45 0 1,0 -2.9,0M300.7,35.23a1.45,1.45 0 1,0 2.9,0a1.45,1.45 0 1,0 -2.9,0M301.03,32.87a1.45,1.45 0 1,0 2.9,0a1.45,1.45 0 1,0 -2.9,0M301.35,30.5a1.45,1.45 0 1,0 2.9,0a1.45,1.45 0 1,0 -2.9,0" fill="#838d28"/>
<polyline points="315.8,129.4 319.3,126.9 323.5,124.8 327.6,123.1 332.4,121.3 334.4,119 335.9,113.8 337.3,109.7 340.6,108.7 342.1,104.5 342.7,97.9 346.2,96.2 350.4,94.2 352.4,89 353.5,84.8 356.6,80.7 359.7,76.6 360.8,66.4 361.9,63 364.7,58.8 368.1,57.5 371.6,56.5 374.3,54.3 375.7,51.2 379.9,49.6 384,47.8 386.5,45.7 389.3,42.7 393.7,39.9 397.8,38.8 402,37.4 403.6,35.4 407.5,33.3 411.6,31.9 415.5,30.8" fill="none" stroke="#000" stroke-width="1.6" stroke-linejoin="round" stroke-linecap="round"/>
<path d="M314.6,129.4a1.2,1.2 0 1,0 2.4,0a1.2,1.2 0 1,0 -2.4,0M317.89,127.05a1.2,1.2 0 1,0 2.4,0a1.2,1.2 0 1,0 -2.4,0M322.53,124.7a1.2,1.2 0 1,0 2.4,0a1.2,1.2 0 1,0 -2.4,0M328.38,122.36a1.2,1.2 0 1,0 2.4,0a1.2,1.2 0 1,0 -2.4,0M332.32,120.01a1.2,1.2 0 1,0 2.4,0a1.2,1.2 0 1,0 -2.4,0M333.59,117.66a1.2,1.2 0 1,0 2.4,0a1.2,1.2 0 1,0 -2.4,0M334.26,115.31a1.2,1.2 0 1,0 2.4,0a1.2,1.2 0 1,0 -2.4,0M334.98,112.97a1.2,1.2 0 1,0 2.4,0a1.2,1.2 0 1,0 -2.4,0M335.79,110.62a1.2,1.2 0 1,0 2.4,0a1.2,1.2 0 1,0 -2.4,0M339.55,108.27a1.2,1.2 0 1,0 2.4,0a1.2,1.2 0 1,0 -2.4,0M340.39,105.92a1.2,1.2 0 1,0 2.4,0a1.2,1.2 0 1,0 -2.4,0M340.98,103.58a1.2,1.2 0 1,0 2.4,0a1.2,1.2 0 1,0 -2.4,0M341.2,101.23a1.2,1.2 0 1,0 2.4,0a1.2,1.2 0 1,0 -2.4,0M341.41,98.88a1.2,1.2 0 1,0 2.4,0a1.2,1.2 0 1,0 -2.4,0M344.31,96.53a1.2,1.2 0 1,0 2.4,0a1.2,1.2 0 1,0 -2.4,0M349.21,94.19a1.2,1.2 0 1,0 2.4,0a1.2,1.2 0 1,0 -2.4,0M350.11,91.84a1.2,1.2 0 1,0 2.4,0a1.2,1.2 0 1,0 -2.4,0M351.01,89.49a1.2,1.2 0 1,0 2.4,0a1.2,1.2 0 1,0 -2.4,0M351.69,87.14a1.2,1.2 0 1,0 2.4,0a1.2,1.2 0 1,0 -2.4,0M352.3,84.8a1.2,1.2 0 1,0 2.4,0a1.2,1.2 0 1,0 -2.4,0M354.08,82.45a1.2,1.2 0 1,0 2.4,0a1.2,1.2 0 1,0 -2.4,0M355.85,80.1a1.2,1.2 0 1,0 2.4,0a1.2,1.2 0 1,0 -2.4,0M357.63,77.75a1.2,1.2 0 1,0 2.4,0a1.2,1.2 0 1,0 -2.4,0M358.63,75.4a1.2,1.2 0 1,0 2.4,0a1.2,1.2 0 1,0 -2.4,0M358.88,73.06a1.2,1.2 0 1,0 2.4,0a1.2,1.2 0 1,0 -2.4,0M359.14,70.71a1.2,1.2 0 1,0 2.4,0a1.2,1.2 0 1,0 -2.4,0M359.39,68.36a1.2,1.2 0 1,0 2.4,0a1.2,1.2 0 1,0 -2.4,0M359.72,66.01a1.2,1.2 0 1,0 2.4,0a1.2,1.2 0 1,0 -2.4,0M360.48,63.67a1.2,1.2 0 1,0 2.4,0a1.2,1.2 0 1,0 -2.4,0M361.82,61.32a1.2,1.2 0 1,0 2.4,0a1.2,1.2 0 1,0 -2.4,0M363.39,58.97a1.2,1.2 0 1,0 2.4,0a1.2,1.2 0 1,0 -2.4,0M369.97,56.62a1.2,1.2 0 1,0 2.4,0a1.2,1.2 0 1,0 -2.4,0M373.11,54.28a1.2,1.2 0 1,0 2.4,0a1.2,1.2 0 1,0 -2.4,0M374.17,51.93a1.2,1.2 0 1,0 2.4,0a1.2,1.2 0 1,0 -2.4,0M378.74,49.58a1.2,1.2 0 1,0 2.4,0a1.2,1.2 0 1,0 -2.4,0M383.47,47.23a1.2,1.2 0 1,0 2.4,0a1.2,1.2 0 1,0 -2.4,0M386.06,44.89a1.2,1.2 0 1,0 2.4,0a1.2,1.2 0 1,0 -2.4,0M388.35,42.54a1.2,1.2 0 1,0 2.4,0a1.2,1.2 0 1,0 -2.4,0M392.04,40.19a1.2,1.2 0 1,0 2.4,0a1.2,1.2 0 1,0 -2.4,0M399.47,37.84a1.2,1.2 0 1,0 2.4,0a1.2,1.2 0 1,0 -2.4,0M402.32,35.5a1.2,1.2 0 1,0 2.4,0a1.2,1.2 0 1,0 -2.4,0M406.75,33.15a1.2,1.2 0 1,0 2.4,0a1.2,1.2 0 1,0 -2.4,0M414.3,30.8a1.2,1.2 0 1,0 2.4,0a1.2,1.2 0 1,0 -2.4,0" fill="#000"/>
<text x="308" y="40.5" font-size="9.5" text-anchor="start" fill="#838d28" >RESET</text>
<text x="310.3" y="51.9" font-size="7.7" fill="#838d28"><tspan font-style="italic">μ</tspan> = -0.25 V</text>
<text x="310.3" y="61.2" font-size="7.7" fill="#838d28"><tspan font-style="italic">σ</tspan> = 0.13 V</text>
<text x="310.3" y="70.3" font-size="7.7" fill="#838d28"><tspan font-style="italic">C</tspan><tspan font-size="5.3" dy="1.5">V</tspan><tspan dy="-1.5"> = 52 %</tspan></text>
<text x="366.8" y="84.4" font-size="9.6" text-anchor="start" fill="#000" >SET</text>
<text x="367.4" y="95.6" font-size="7.7"><tspan font-style="italic">μ</tspan> = 0.96 V</text>
<text x="367.4" y="104.6" font-size="7.7"><tspan font-style="italic">σ</tspan> = 0.44 V</text>
<text x="367.4" y="113.8" font-size="7.7"><tspan font-style="italic">C</tspan><tspan font-size="5.3" dy="1.5">V</tspan><tspan dy="-1.5"> = 46 %</tspan></text>
<text x="375" y="135.2" font-size="9.5" text-anchor="start" fill="#000" >43 Devices</text>
<text x="470" y="8.9" font-size="11.9" text-anchor="start" fill="#000" >(c)</text>
<line x1="493.9" y1="142.4" x2="491.22" y2="142.4" stroke="#000" stroke-width="1.15" stroke-linecap="butt"/>
<line x1="493.9" y1="122.12" x2="491.22" y2="122.12" stroke="#000" stroke-width="1.15" stroke-linecap="butt"/>
<line x1="493.9" y1="101.83" x2="491.22" y2="101.83" stroke="#000" stroke-width="1.15" stroke-linecap="butt"/>
<line x1="493.9" y1="81.55" x2="491.22" y2="81.55" stroke="#000" stroke-width="1.15" stroke-linecap="butt"/>
<line x1="493.9" y1="61.27" x2="491.22" y2="61.27" stroke="#000" stroke-width="1.15" stroke-linecap="butt"/>
<line x1="493.9" y1="40.98" x2="491.22" y2="40.98" stroke="#000" stroke-width="1.15" stroke-linecap="butt"/>
<line x1="493.9" y1="20.7" x2="491.22" y2="20.7" stroke="#000" stroke-width="1.15" stroke-linecap="butt"/>
<line x1="493.9" y1="132.26" x2="490.22" y2="132.26" stroke="#000" stroke-width="1.15" stroke-linecap="butt"/>
<line x1="493.9" y1="111.98" x2="490.22" y2="111.98" stroke="#000" stroke-width="1.15" stroke-linecap="butt"/>
<line x1="493.9" y1="91.69" x2="490.22" y2="91.69" stroke="#000" stroke-width="1.15" stroke-linecap="butt"/>
<line x1="493.9" y1="71.41" x2="490.22" y2="71.41" stroke="#000" stroke-width="1.15" stroke-linecap="butt"/>
<line x1="493.9" y1="51.12" x2="490.22" y2="51.12" stroke="#000" stroke-width="1.15" stroke-linecap="butt"/>
<line x1="493.9" y1="30.84" x2="490.22" y2="30.84" stroke="#000" stroke-width="1.15" stroke-linecap="butt"/>
<text x="489" y="135.36" font-size="11.3" text-anchor="end" fill="#000" >0</text>
<text x="489" y="115.08" font-size="11.3" text-anchor="end" fill="#000" >20</text>
<text x="489" y="94.79" font-size="11.3" text-anchor="end" fill="#000" >40</text>
<text x="489" y="74.51" font-size="11.3" text-anchor="end" fill="#000" >60</text>
<text x="489" y="54.23" font-size="11.3" text-anchor="end" fill="#000" >80</text>
<text x="489" y="33.94" font-size="11.3" text-anchor="end" fill="#000" >100</text>
<line x1="493.9" y1="142.4" x2="493.9" y2="146.08" stroke="#000" stroke-width="1.15" stroke-linecap="butt"/>
<line x1="505.48" y1="142.4" x2="505.48" y2="146.08" stroke="#000" stroke-width="1.15" stroke-linecap="butt"/>
<line x1="517.06" y1="142.4" x2="517.06" y2="146.08" stroke="#000" stroke-width="1.15" stroke-linecap="butt"/>
<line x1="528.64" y1="142.4" x2="528.64" y2="146.08" stroke="#000" stroke-width="1.15" stroke-linecap="butt"/>
<line x1="540.21" y1="142.4" x2="540.21" y2="146.08" stroke="#000" stroke-width="1.15" stroke-linecap="butt"/>
<line x1="551.79" y1="142.4" x2="551.79" y2="146.08" stroke="#000" stroke-width="1.15" stroke-linecap="butt"/>
<line x1="563.37" y1="142.4" x2="563.37" y2="146.08" stroke="#000" stroke-width="1.15" stroke-linecap="butt"/>
<line x1="574.95" y1="142.4" x2="574.95" y2="146.08" stroke="#000" stroke-width="1.15" stroke-linecap="butt"/>
<line x1="586.53" y1="142.4" x2="586.53" y2="146.08" stroke="#000" stroke-width="1.15" stroke-linecap="butt"/>
<line x1="598.11" y1="142.4" x2="598.11" y2="146.08" stroke="#000" stroke-width="1.15" stroke-linecap="butt"/>
<line x1="609.69" y1="142.4" x2="609.69" y2="146.08" stroke="#000" stroke-width="1.15" stroke-linecap="butt"/>
<line x1="621.26" y1="142.4" x2="621.26" y2="146.08" stroke="#000" stroke-width="1.15" stroke-linecap="butt"/>
<line x1="632.84" y1="142.4" x2="632.84" y2="146.08" stroke="#000" stroke-width="1.15" stroke-linecap="butt"/>
<line x1="644.42" y1="142.4" x2="644.42" y2="146.08" stroke="#000" stroke-width="1.15" stroke-linecap="butt"/>
<line x1="656" y1="142.4" x2="656" y2="146.08" stroke="#000" stroke-width="1.15" stroke-linecap="butt"/>
<line x1="497.39" y1="142.4" x2="497.39" y2="145.08" stroke="#000" stroke-width="0.85" stroke-linecap="butt"/>
<line x1="499.42" y1="142.4" x2="499.42" y2="145.08" stroke="#000" stroke-width="0.85" stroke-linecap="butt"/>
<line x1="500.87" y1="142.4" x2="500.87" y2="145.08" stroke="#000" stroke-width="0.85" stroke-linecap="butt"/>
<line x1="501.99" y1="142.4" x2="501.99" y2="145.08" stroke="#000" stroke-width="0.85" stroke-linecap="butt"/>
<line x1="502.91" y1="142.4" x2="502.91" y2="145.08" stroke="#000" stroke-width="0.85" stroke-linecap="butt"/>
<line x1="503.69" y1="142.4" x2="503.69" y2="145.08" stroke="#000" stroke-width="0.85" stroke-linecap="butt"/>
<line x1="504.36" y1="142.4" x2="504.36" y2="145.08" stroke="#000" stroke-width="0.85" stroke-linecap="butt"/>
<line x1="504.95" y1="142.4" x2="504.95" y2="145.08" stroke="#000" stroke-width="0.85" stroke-linecap="butt"/>
<line x1="508.96" y1="142.4" x2="508.96" y2="145.08" stroke="#000" stroke-width="0.85" stroke-linecap="butt"/>
<line x1="511" y1="142.4" x2="511" y2="145.08" stroke="#000" stroke-width="0.85" stroke-linecap="butt"/>
<line x1="512.45" y1="142.4" x2="512.45" y2="145.08" stroke="#000" stroke-width="0.85" stroke-linecap="butt"/>
<line x1="513.57" y1="142.4" x2="513.57" y2="145.08" stroke="#000" stroke-width="0.85" stroke-linecap="butt"/>
<line x1="514.49" y1="142.4" x2="514.49" y2="145.08" stroke="#000" stroke-width="0.85" stroke-linecap="butt"/>
<line x1="515.26" y1="142.4" x2="515.26" y2="145.08" stroke="#000" stroke-width="0.85" stroke-linecap="butt"/>
<line x1="515.94" y1="142.4" x2="515.94" y2="145.08" stroke="#000" stroke-width="0.85" stroke-linecap="butt"/>
<line x1="516.53" y1="142.4" x2="516.53" y2="145.08" stroke="#000" stroke-width="0.85" stroke-linecap="butt"/>
<line x1="520.54" y1="142.4" x2="520.54" y2="145.08" stroke="#000" stroke-width="0.85" stroke-linecap="butt"/>
<line x1="522.58" y1="142.4" x2="522.58" y2="145.08" stroke="#000" stroke-width="0.85" stroke-linecap="butt"/>
<line x1="524.03" y1="142.4" x2="524.03" y2="145.08" stroke="#000" stroke-width="0.85" stroke-linecap="butt"/>
<line x1="525.15" y1="142.4" x2="525.15" y2="145.08" stroke="#000" stroke-width="0.85" stroke-linecap="butt"/>
<line x1="526.07" y1="142.4" x2="526.07" y2="145.08" stroke="#000" stroke-width="0.85" stroke-linecap="butt"/>
<line x1="526.84" y1="142.4" x2="526.84" y2="145.08" stroke="#000" stroke-width="0.85" stroke-linecap="butt"/>
<line x1="527.51" y1="142.4" x2="527.51" y2="145.08" stroke="#000" stroke-width="0.85" stroke-linecap="butt"/>
<line x1="528.11" y1="142.4" x2="528.11" y2="145.08" stroke="#000" stroke-width="0.85" stroke-linecap="butt"/>
<line x1="532.12" y1="142.4" x2="532.12" y2="145.08" stroke="#000" stroke-width="0.85" stroke-linecap="butt"/>
<line x1="534.16" y1="142.4" x2="534.16" y2="145.08" stroke="#000" stroke-width="0.85" stroke-linecap="butt"/>
<line x1="535.61" y1="142.4" x2="535.61" y2="145.08" stroke="#000" stroke-width="0.85" stroke-linecap="butt"/>
<line x1="536.73" y1="142.4" x2="536.73" y2="145.08" stroke="#000" stroke-width="0.85" stroke-linecap="butt"/>
<line x1="537.65" y1="142.4" x2="537.65" y2="145.08" stroke="#000" stroke-width="0.85" stroke-linecap="butt"/>
<line x1="538.42" y1="142.4" x2="538.42" y2="145.08" stroke="#000" stroke-width="0.85" stroke-linecap="butt"/>
<line x1="539.09" y1="142.4" x2="539.09" y2="145.08" stroke="#000" stroke-width="0.85" stroke-linecap="butt"/>
<line x1="539.68" y1="142.4" x2="539.68" y2="145.08" stroke="#000" stroke-width="0.85" stroke-linecap="butt"/>
<line x1="543.7" y1="142.4" x2="543.7" y2="145.08" stroke="#000" stroke-width="0.85" stroke-linecap="butt"/>
<line x1="545.74" y1="142.4" x2="545.74" y2="145.08" stroke="#000" stroke-width="0.85" stroke-linecap="butt"/>
<line x1="547.19" y1="142.4" x2="547.19" y2="145.08" stroke="#000" stroke-width="0.85" stroke-linecap="butt"/>
<line x1="548.31" y1="142.4" x2="548.31" y2="145.08" stroke="#000" stroke-width="0.85" stroke-linecap="butt"/>
<line x1="549.22" y1="142.4" x2="549.22" y2="145.08" stroke="#000" stroke-width="0.85" stroke-linecap="butt"/>
<line x1="550" y1="142.4" x2="550" y2="145.08" stroke="#000" stroke-width="0.85" stroke-linecap="butt"/>
<line x1="550.67" y1="142.4" x2="550.67" y2="145.08" stroke="#000" stroke-width="0.85" stroke-linecap="butt"/>
<line x1="551.26" y1="142.4" x2="551.26" y2="145.08" stroke="#000" stroke-width="0.85" stroke-linecap="butt"/>
<line x1="555.28" y1="142.4" x2="555.28" y2="145.08" stroke="#000" stroke-width="0.85" stroke-linecap="butt"/>
<line x1="557.32" y1="142.4" x2="557.32" y2="145.08" stroke="#000" stroke-width="0.85" stroke-linecap="butt"/>
<line x1="558.76" y1="142.4" x2="558.76" y2="145.08" stroke="#000" stroke-width="0.85" stroke-linecap="butt"/>
<line x1="559.89" y1="142.4" x2="559.89" y2="145.08" stroke="#000" stroke-width="0.85" stroke-linecap="butt"/>
<line x1="560.8" y1="142.4" x2="560.8" y2="145.08" stroke="#000" stroke-width="0.85" stroke-linecap="butt"/>
<line x1="561.58" y1="142.4" x2="561.58" y2="145.08" stroke="#000" stroke-width="0.85" stroke-linecap="butt"/>
<line x1="562.25" y1="142.4" x2="562.25" y2="145.08" stroke="#000" stroke-width="0.85" stroke-linecap="butt"/>
<line x1="562.84" y1="142.4" x2="562.84" y2="145.08" stroke="#000" stroke-width="0.85" stroke-linecap="butt"/>
<line x1="566.86" y1="142.4" x2="566.86" y2="145.08" stroke="#000" stroke-width="0.85" stroke-linecap="butt"/>
<line x1="568.9" y1="142.4" x2="568.9" y2="145.08" stroke="#000" stroke-width="0.85" stroke-linecap="butt"/>
<line x1="570.34" y1="142.4" x2="570.34" y2="145.08" stroke="#000" stroke-width="0.85" stroke-linecap="butt"/>
<line x1="571.46" y1="142.4" x2="571.46" y2="145.08" stroke="#000" stroke-width="0.85" stroke-linecap="butt"/>
<line x1="572.38" y1="142.4" x2="572.38" y2="145.08" stroke="#000" stroke-width="0.85" stroke-linecap="butt"/>
<line x1="573.16" y1="142.4" x2="573.16" y2="145.08" stroke="#000" stroke-width="0.85" stroke-linecap="butt"/>
<line x1="573.83" y1="142.4" x2="573.83" y2="145.08" stroke="#000" stroke-width="0.85" stroke-linecap="butt"/>
<line x1="574.42" y1="142.4" x2="574.42" y2="145.08" stroke="#000" stroke-width="0.85" stroke-linecap="butt"/>
<line x1="578.44" y1="142.4" x2="578.44" y2="145.08" stroke="#000" stroke-width="0.85" stroke-linecap="butt"/>
<line x1="580.47" y1="142.4" x2="580.47" y2="145.08" stroke="#000" stroke-width="0.85" stroke-linecap="butt"/>
<line x1="581.92" y1="142.4" x2="581.92" y2="145.08" stroke="#000" stroke-width="0.85" stroke-linecap="butt"/>
<line x1="583.04" y1="142.4" x2="583.04" y2="145.08" stroke="#000" stroke-width="0.85" stroke-linecap="butt"/>
<line x1="583.96" y1="142.4" x2="583.96" y2="145.08" stroke="#000" stroke-width="0.85" stroke-linecap="butt"/>
<line x1="584.74" y1="142.4" x2="584.74" y2="145.08" stroke="#000" stroke-width="0.85" stroke-linecap="butt"/>
<line x1="585.41" y1="142.4" x2="585.41" y2="145.08" stroke="#000" stroke-width="0.85" stroke-linecap="butt"/>
<line x1="586" y1="142.4" x2="586" y2="145.08" stroke="#000" stroke-width="0.85" stroke-linecap="butt"/>
<line x1="590.01" y1="142.4" x2="590.01" y2="145.08" stroke="#000" stroke-width="0.85" stroke-linecap="butt"/>
<line x1="592.05" y1="142.4" x2="592.05" y2="145.08" stroke="#000" stroke-width="0.85" stroke-linecap="butt"/>
<line x1="593.5" y1="142.4" x2="593.5" y2="145.08" stroke="#000" stroke-width="0.85" stroke-linecap="butt"/>
<line x1="594.62" y1="142.4" x2="594.62" y2="145.08" stroke="#000" stroke-width="0.85" stroke-linecap="butt"/>
<line x1="595.54" y1="142.4" x2="595.54" y2="145.08" stroke="#000" stroke-width="0.85" stroke-linecap="butt"/>
<line x1="596.31" y1="142.4" x2="596.31" y2="145.08" stroke="#000" stroke-width="0.85" stroke-linecap="butt"/>
<line x1="596.99" y1="142.4" x2="596.99" y2="145.08" stroke="#000" stroke-width="0.85" stroke-linecap="butt"/>
<line x1="597.58" y1="142.4" x2="597.58" y2="145.08" stroke="#000" stroke-width="0.85" stroke-linecap="butt"/>
<line x1="601.59" y1="142.4" x2="601.59" y2="145.08" stroke="#000" stroke-width="0.85" stroke-linecap="butt"/>
<line x1="603.63" y1="142.4" x2="603.63" y2="145.08" stroke="#000" stroke-width="0.85" stroke-linecap="butt"/>
<line x1="605.08" y1="142.4" x2="605.08" y2="145.08" stroke="#000" stroke-width="0.85" stroke-linecap="butt"/>
<line x1="606.2" y1="142.4" x2="606.2" y2="145.08" stroke="#000" stroke-width="0.85" stroke-linecap="butt"/>
<line x1="607.12" y1="142.4" x2="607.12" y2="145.08" stroke="#000" stroke-width="0.85" stroke-linecap="butt"/>
<line x1="607.89" y1="142.4" x2="607.89" y2="145.08" stroke="#000" stroke-width="0.85" stroke-linecap="butt"/>
<line x1="608.56" y1="142.4" x2="608.56" y2="145.08" stroke="#000" stroke-width="0.85" stroke-linecap="butt"/>
<line x1="609.16" y1="142.4" x2="609.16" y2="145.08" stroke="#000" stroke-width="0.85" stroke-linecap="butt"/>
<line x1="613.17" y1="142.4" x2="613.17" y2="145.08" stroke="#000" stroke-width="0.85" stroke-linecap="butt"/>
<line x1="615.21" y1="142.4" x2="615.21" y2="145.08" stroke="#000" stroke-width="0.85" stroke-linecap="butt"/>
<line x1="616.66" y1="142.4" x2="616.66" y2="145.08" stroke="#000" stroke-width="0.85" stroke-linecap="butt"/>
<line x1="617.78" y1="142.4" x2="617.78" y2="145.08" stroke="#000" stroke-width="0.85" stroke-linecap="butt"/>
<line x1="618.7" y1="142.4" x2="618.7" y2="145.08" stroke="#000" stroke-width="0.85" stroke-linecap="butt"/>
<line x1="619.47" y1="142.4" x2="619.47" y2="145.08" stroke="#000" stroke-width="0.85" stroke-linecap="butt"/>
<line x1="620.14" y1="142.4" x2="620.14" y2="145.08" stroke="#000" stroke-width="0.85" stroke-linecap="butt"/>
<line x1="620.73" y1="142.4" x2="620.73" y2="145.08" stroke="#000" stroke-width="0.85" stroke-linecap="butt"/>
<line x1="624.75" y1="142.4" x2="624.75" y2="145.08" stroke="#000" stroke-width="0.85" stroke-linecap="butt"/>
<line x1="626.79" y1="142.4" x2="626.79" y2="145.08" stroke="#000" stroke-width="0.85" stroke-linecap="butt"/>
<line x1="628.24" y1="142.4" x2="628.24" y2="145.08" stroke="#000" stroke-width="0.85" stroke-linecap="butt"/>
<line x1="629.36" y1="142.4" x2="629.36" y2="145.08" stroke="#000" stroke-width="0.85" stroke-linecap="butt"/>
<line x1="630.27" y1="142.4" x2="630.27" y2="145.08" stroke="#000" stroke-width="0.85" stroke-linecap="butt"/>
<line x1="631.05" y1="142.4" x2="631.05" y2="145.08" stroke="#000" stroke-width="0.85" stroke-linecap="butt"/>
<line x1="631.72" y1="142.4" x2="631.72" y2="145.08" stroke="#000" stroke-width="0.85" stroke-linecap="butt"/>
<line x1="632.31" y1="142.4" x2="632.31" y2="145.08" stroke="#000" stroke-width="0.85" stroke-linecap="butt"/>
<line x1="636.33" y1="142.4" x2="636.33" y2="145.08" stroke="#000" stroke-width="0.85" stroke-linecap="butt"/>
<line x1="638.37" y1="142.4" x2="638.37" y2="145.08" stroke="#000" stroke-width="0.85" stroke-linecap="butt"/>
<line x1="639.81" y1="142.4" x2="639.81" y2="145.08" stroke="#000" stroke-width="0.85" stroke-linecap="butt"/>
<line x1="640.94" y1="142.4" x2="640.94" y2="145.08" stroke="#000" stroke-width="0.85" stroke-linecap="butt"/>
<line x1="641.85" y1="142.4" x2="641.85" y2="145.08" stroke="#000" stroke-width="0.85" stroke-linecap="butt"/>
<line x1="642.63" y1="142.4" x2="642.63" y2="145.08" stroke="#000" stroke-width="0.85" stroke-linecap="butt"/>
<line x1="643.3" y1="142.4" x2="643.3" y2="145.08" stroke="#000" stroke-width="0.85" stroke-linecap="butt"/>
<line x1="643.89" y1="142.4" x2="643.89" y2="145.08" stroke="#000" stroke-width="0.85" stroke-linecap="butt"/>
<line x1="647.91" y1="142.4" x2="647.91" y2="145.08" stroke="#000" stroke-width="0.85" stroke-linecap="butt"/>
<line x1="649.95" y1="142.4" x2="649.95" y2="145.08" stroke="#000" stroke-width="0.85" stroke-linecap="butt"/>
<line x1="651.39" y1="142.4" x2="651.39" y2="145.08" stroke="#000" stroke-width="0.85" stroke-linecap="butt"/>
<line x1="652.51" y1="142.4" x2="652.51" y2="145.08" stroke="#000" stroke-width="0.85" stroke-linecap="butt"/>
<line x1="653.43" y1="142.4" x2="653.43" y2="145.08" stroke="#000" stroke-width="0.85" stroke-linecap="butt"/>
<line x1="654.21" y1="142.4" x2="654.21" y2="145.08" stroke="#000" stroke-width="0.85" stroke-linecap="butt"/>
<line x1="654.88" y1="142.4" x2="654.88" y2="145.08" stroke="#000" stroke-width="0.85" stroke-linecap="butt"/>
<line x1="655.47" y1="142.4" x2="655.47" y2="145.08" stroke="#000" stroke-width="0.85" stroke-linecap="butt"/>
<text x="505.48" y="157.9" font-size="11.3" text-anchor="middle">10<tspan font-size="7.3" dy="-4.7">1</tspan></text>
<text x="528.64" y="157.9" font-size="11.3" text-anchor="middle">10<tspan font-size="7.3" dy="-4.7">3</tspan></text>
<text x="551.79" y="157.9" font-size="11.3" text-anchor="middle">10<tspan font-size="7.3" dy="-4.7">5</tspan></text>
<text x="574.95" y="157.9" font-size="11.3" text-anchor="middle">10<tspan font-size="7.3" dy="-4.7">7</tspan></text>
<text x="598.11" y="157.9" font-size="11.3" text-anchor="middle">10<tspan font-size="7.3" dy="-4.7">9</tspan></text>
<text x="621.26" y="157.9" font-size="11.3" text-anchor="middle">10<tspan font-size="7.3" dy="-4.7">11</tspan></text>
<text x="644.42" y="157.9" font-size="11.3" text-anchor="middle">10<tspan font-size="7.3" dy="-4.7">13</tspan></text>
<text x="574.95" y="171.1" font-size="11.5" text-anchor="middle" fill="#000" >Resistance [Ω]</text>
<text transform="translate(465.7,81.4) rotate(-90)" font-size="11.5" text-anchor="middle" fill="#000">Cumulative Probability [%]</text>
<polyline points="514.7,129.9 515.6,116.2 516.6,104 517.8,91.9 518.7,78.2 519.6,69.1 521.7,64.5 523.2,55.4 524.8,43.2 526.3,29.6" fill="none" stroke="#000" stroke-width="1.9" stroke-linejoin="round" stroke-linecap="round"/>
<path d="M513.5,129.9a1.2,1.2 0 1,0 2.4,0a1.2,1.2 0 1,0 -2.4,0M513.66,127.51a1.2,1.2 0 1,0 2.4,0a1.2,1.2 0 1,0 -2.4,0M513.81,125.12a1.2,1.2 0 1,0 2.4,0a1.2,1.2 0 1,0 -2.4,0M513.97,122.74a1.2,1.2 0 1,0 2.4,0a1.2,1.2 0 1,0 -2.4,0M514.13,120.35a1.2,1.2 0 1,0 2.4,0a1.2,1.2 0 1,0 -2.4,0M514.28,117.96a1.2,1.2 0 1,0 2.4,0a1.2,1.2 0 1,0 -2.4,0M514.45,115.57a1.2,1.2 0 1,0 2.4,0a1.2,1.2 0 1,0 -2.4,0M514.65,113.18a1.2,1.2 0 1,0 2.4,0a1.2,1.2 0 1,0 -2.4,0M514.84,110.8a1.2,1.2 0 1,0 2.4,0a1.2,1.2 0 1,0 -2.4,0M515.04,108.41a1.2,1.2 0 1,0 2.4,0a1.2,1.2 0 1,0 -2.4,0M515.23,106.02a1.2,1.2 0 1,0 2.4,0a1.2,1.2 0 1,0 -2.4,0M515.44,103.63a1.2,1.2 0 1,0 2.4,0a1.2,1.2 0 1,0 -2.4,0M515.67,101.24a1.2,1.2 0 1,0 2.4,0a1.2,1.2 0 1,0 -2.4,0M515.91,98.85a1.2,1.2 0 1,0 2.4,0a1.2,1.2 0 1,0 -2.4,0M516.15,96.47a1.2,1.2 0 1,0 2.4,0a1.2,1.2 0 1,0 -2.4,0M516.38,94.08a1.2,1.2 0 1,0 2.4,0a1.2,1.2 0 1,0 -2.4,0M516.61,91.69a1.2,1.2 0 1,0 2.4,0a1.2,1.2 0 1,0 -2.4,0M516.77,89.3a1.2,1.2 0 1,0 2.4,0a1.2,1.2 0 1,0 -2.4,0M516.93,86.91a1.2,1.2 0 1,0 2.4,0a1.2,1.2 0 1,0 -2.4,0M517.08,84.53a1.2,1.2 0 1,0 2.4,0a1.2,1.2 0 1,0 -2.4,0M517.24,82.14a1.2,1.2 0 1,0 2.4,0a1.2,1.2 0 1,0 -2.4,0M517.4,79.75a1.2,1.2 0 1,0 2.4,0a1.2,1.2 0 1,0 -2.4,0M517.58,77.36a1.2,1.2 0 1,0 2.4,0a1.2,1.2 0 1,0 -2.4,0M517.82,74.97a1.2,1.2 0 1,0 2.4,0a1.2,1.2 0 1,0 -2.4,0M518.06,72.59a1.2,1.2 0 1,0 2.4,0a1.2,1.2 0 1,0 -2.4,0M518.29,70.2a1.2,1.2 0 1,0 2.4,0a1.2,1.2 0 1,0 -2.4,0M518.99,67.81a1.2,1.2 0 1,0 2.4,0a1.2,1.2 0 1,0 -2.4,0M520.08,65.42a1.2,1.2 0 1,0 2.4,0a1.2,1.2 0 1,0 -2.4,0M520.74,63.03a1.2,1.2 0 1,0 2.4,0a1.2,1.2 0 1,0 -2.4,0M521.14,60.65a1.2,1.2 0 1,0 2.4,0a1.2,1.2 0 1,0 -2.4,0M521.53,58.26a1.2,1.2 0 1,0 2.4,0a1.2,1.2 0 1,0 -2.4,0M521.92,55.87a1.2,1.2 0 1,0 2.4,0a1.2,1.2 0 1,0 -2.4,0M522.25,53.48a1.2,1.2 0 1,0 2.4,0a1.2,1.2 0 1,0 -2.4,0M522.56,51.09a1.2,1.2 0 1,0 2.4,0a1.2,1.2 0 1,0 -2.4,0M522.88,48.7a1.2,1.2 0 1,0 2.4,0a1.2,1.2 0 1,0 -2.4,0M523.19,46.32a1.2,1.2 0 1,0 2.4,0a1.2,1.2 0 1,0 -2.4,0M523.5,43.93a1.2,1.2 0 1,0 2.4,0a1.2,1.2 0 1,0 -2.4,0M523.78,41.54a1.2,1.2 0 1,0 2.4,0a1.2,1.2 0 1,0 -2.4,0M524.05,39.15a1.2,1.2 0 1,0 2.4,0a1.2,1.2 0 1,0 -2.4,0M524.31,36.76a1.2,1.2 0 1,0 2.4,0a1.2,1.2 0 1,0 -2.4,0M524.57,34.38a1.2,1.2 0 1,0 2.4,0a1.2,1.2 0 1,0 -2.4,0M524.84,31.99a1.2,1.2 0 1,0 2.4,0a1.2,1.2 0 1,0 -2.4,0M525.1,29.6a1.2,1.2 0 1,0 2.4,0a1.2,1.2 0 1,0 -2.4,0" fill="#000"/>
<polyline points="600.3,129.7 600.8,128.1 603.3,125.6 606.9,123.9 608.3,119.8 611.6,117.3 614.6,114.8 616.2,110.7 617.4,103.2 618.7,94.9 619.9,88.3 621.5,81.6 622.4,73.6 623.1,69.8 623.9,65.3 624.6,60 625.4,56.2 627.7,53.9 628.7,50.1 629.2,47 630.7,44.5 633,42.5 634.2,40.2 634.8,37.2 635.3,34.9 637.6,32.6 640.9,30.3" fill="none" stroke="#838d28" stroke-width="1.7" stroke-linejoin="round" stroke-linecap="round"/>
<path d="M598.85,129.7a1.45,1.45 0 1,0 2.9,0a1.45,1.45 0 1,0 -2.9,0M600.12,127.33a1.45,1.45 0 1,0 2.9,0a1.45,1.45 0 1,0 -2.9,0M603.19,124.97a1.45,1.45 0 1,0 2.9,0a1.45,1.45 0 1,0 -2.9,0M605.89,122.6a1.45,1.45 0 1,0 2.9,0a1.45,1.45 0 1,0 -2.9,0M606.7,120.23a1.45,1.45 0 1,0 2.9,0a1.45,1.45 0 1,0 -2.9,0M609.4,117.87a1.45,1.45 0 1,0 2.9,0a1.45,1.45 0 1,0 -2.9,0M612.31,115.5a1.45,1.45 0 1,0 2.9,0a1.45,1.45 0 1,0 -2.9,0M613.8,113.13a1.45,1.45 0 1,0 2.9,0a1.45,1.45 0 1,0 -2.9,0M614.72,110.77a1.45,1.45 0 1,0 2.9,0a1.45,1.45 0 1,0 -2.9,0M615.12,108.4a1.45,1.45 0 1,0 2.9,0a1.45,1.45 0 1,0 -2.9,0M615.5,106.03a1.45,1.45 0 1,0 2.9,0a1.45,1.45 0 1,0 -2.9,0M615.88,103.67a1.45,1.45 0 1,0 2.9,0a1.45,1.45 0 1,0 -2.9,0M616.25,101.3a1.45,1.45 0 1,0 2.9,0a1.45,1.45 0 1,0 -2.9,0M616.62,98.93a1.45,1.45 0 1,0 2.9,0a1.45,1.45 0 1,0 -2.9,0M616.99,96.57a1.45,1.45 0 1,0 2.9,0a1.45,1.45 0 1,0 -2.9,0M617.38,94.2a1.45,1.45 0 1,0 2.9,0a1.45,1.45 0 1,0 -2.9,0M617.81,91.83a1.45,1.45 0 1,0 2.9,0a1.45,1.45 0 1,0 -2.9,0M618.24,89.47a1.45,1.45 0 1,0 2.9,0a1.45,1.45 0 1,0 -2.9,0M618.74,87.1a1.45,1.45 0 1,0 2.9,0a1.45,1.45 0 1,0 -2.9,0M619.3,84.73a1.45,1.45 0 1,0 2.9,0a1.45,1.45 0 1,0 -2.9,0M619.87,82.37a1.45,1.45 0 1,0 2.9,0a1.45,1.45 0 1,0 -2.9,0M620.23,80a1.45,1.45 0 1,0 2.9,0a1.45,1.45 0 1,0 -2.9,0M620.5,77.63a1.45,1.45 0 1,0 2.9,0a1.45,1.45 0 1,0 -2.9,0M620.76,75.27a1.45,1.45 0 1,0 2.9,0a1.45,1.45 0 1,0 -2.9,0M621.08,72.9a1.45,1.45 0 1,0 2.9,0a1.45,1.45 0 1,0 -2.9,0M621.51,70.53a1.45,1.45 0 1,0 2.9,0a1.45,1.45 0 1,0 -2.9,0M621.94,68.17a1.45,1.45 0 1,0 2.9,0a1.45,1.45 0 1,0 -2.9,0M622.36,65.8a1.45,1.45 0 1,0 2.9,0a1.45,1.45 0 1,0 -2.9,0M622.7,63.43a1.45,1.45 0 1,0 2.9,0a1.45,1.45 0 1,0 -2.9,0M623.01,61.07a1.45,1.45 0 1,0 2.9,0a1.45,1.45 0 1,0 -2.9,0M623.42,58.7a1.45,1.45 0 1,0 2.9,0a1.45,1.45 0 1,0 -2.9,0M623.92,56.33a1.45,1.45 0 1,0 2.9,0a1.45,1.45 0 1,0 -2.9,0M626.18,53.97a1.45,1.45 0 1,0 2.9,0a1.45,1.45 0 1,0 -2.9,0M626.86,51.6a1.45,1.45 0 1,0 2.9,0a1.45,1.45 0 1,0 -2.9,0M627.39,49.23a1.45,1.45 0 1,0 2.9,0a1.45,1.45 0 1,0 -2.9,0M627.83,46.87a1.45,1.45 0 1,0 2.9,0a1.45,1.45 0 1,0 -2.9,0M629.25,44.5a1.45,1.45 0 1,0 2.9,0a1.45,1.45 0 1,0 -2.9,0M631.74,42.13a1.45,1.45 0 1,0 2.9,0a1.45,1.45 0 1,0 -2.9,0M632.84,39.77a1.45,1.45 0 1,0 2.9,0a1.45,1.45 0 1,0 -2.9,0M633.31,37.4a1.45,1.45 0 1,0 2.9,0a1.45,1.45 0 1,0 -2.9,0M633.82,35.03a1.45,1.45 0 1,0 2.9,0a1.45,1.45 0 1,0 -2.9,0M636.08,32.67a1.45,1.45 0 1,0 2.9,0a1.45,1.45 0 1,0 -2.9,0M639.45,30.3a1.45,1.45 0 1,0 2.9,0a1.45,1.45 0 1,0 -2.9,0" fill="#838d28"/>
<text x="532" y="36.4" font-size="9.4" text-anchor="start" fill="#000" >LRS</text>
<text x="532.9" y="48.1" font-size="7.7"><tspan font-style="italic">μ</tspan> = 230 Ω</text>
<text x="532.9" y="56.9" font-size="7.7"><tspan font-style="italic">σ</tspan> = 170 Ω</text>
<text x="532.9" y="65.7" font-size="7.7"><tspan font-style="italic">C</tspan><tspan font-size="5.3" dy="1.5">V</tspan><tspan dy="-1.5"> = 71 %</tspan></text>
<text x="557" y="100.6" font-size="9.4" text-anchor="start" fill="#838d28" >HRS</text>
<text x="551.5" y="112.1" font-size="7.7" fill="#838d28"><tspan font-style="italic">μ</tspan> = 440 GΩ</text>
<text x="551.5" y="121.1" font-size="7.7" fill="#838d28"><tspan font-style="italic">σ</tspan> = 890 GΩ</text>
<text x="551.5" y="130.1" font-size="7.7" fill="#838d28"><tspan font-style="italic">C</tspan><tspan font-size="5.3" dy="1.5">V</tspan><tspan dy="-1.5"> = 200 %</tspan></text>
<text x="602.2" y="135.2" font-size="9.5" text-anchor="start" fill="#000" >43 Devices</text>
<text x="16.2" y="196.7" font-size="11.9" text-anchor="start" fill="#000" >(d)</text>
<line x1="59.56" y1="329.9" x2="59.56" y2="332.57" stroke="#000" stroke-width="1.15" stroke-linecap="butt"/>
<line x1="100.07" y1="329.9" x2="100.07" y2="332.57" stroke="#000" stroke-width="1.15" stroke-linecap="butt"/>
<line x1="140.58" y1="329.9" x2="140.58" y2="332.57" stroke="#000" stroke-width="1.15" stroke-linecap="butt"/>
<line x1="181.09" y1="329.9" x2="181.09" y2="332.57" stroke="#000" stroke-width="1.15" stroke-linecap="butt"/>
<line x1="39.3" y1="329.9" x2="39.3" y2="333.57" stroke="#000" stroke-width="1.15" stroke-linecap="butt"/>
<line x1="79.81" y1="329.9" x2="79.81" y2="333.57" stroke="#000" stroke-width="1.15" stroke-linecap="butt"/>
<line x1="120.33" y1="329.9" x2="120.33" y2="333.57" stroke="#000" stroke-width="1.15" stroke-linecap="butt"/>
<line x1="160.84" y1="329.9" x2="160.84" y2="333.57" stroke="#000" stroke-width="1.15" stroke-linecap="butt"/>
<line x1="201.35" y1="329.9" x2="201.35" y2="333.57" stroke="#000" stroke-width="1.15" stroke-linecap="butt"/>
<text x="39.3" y="344" font-size="11.3" text-anchor="middle" fill="#000" >0</text>
<text x="79.81" y="344" font-size="11.3" text-anchor="middle" fill="#000" >50</text>
<text x="120.33" y="344" font-size="11.3" text-anchor="middle" fill="#000" >100</text>
<text x="160.84" y="344" font-size="11.3" text-anchor="middle" fill="#000" >150</text>
<text x="201.35" y="344" font-size="11.3" text-anchor="middle" fill="#000" >200</text>
<text x="120.32" y="358.3" font-size="11.5" text-anchor="middle" fill="#000" >Time [µs]</text>
<line x1="39.3" y1="329.9" x2="36.62" y2="329.9" stroke="#000" stroke-width="1.15" stroke-linecap="butt"/>
<line x1="39.3" y1="305.61" x2="36.62" y2="305.61" stroke="#000" stroke-width="1.15" stroke-linecap="butt"/>
<line x1="39.3" y1="281.32" x2="36.62" y2="281.32" stroke="#000" stroke-width="1.15" stroke-linecap="butt"/>
<line x1="39.3" y1="257.03" x2="36.62" y2="257.03" stroke="#000" stroke-width="1.15" stroke-linecap="butt"/>
<line x1="39.3" y1="232.74" x2="36.62" y2="232.74" stroke="#000" stroke-width="1.15" stroke-linecap="butt"/>
<line x1="39.3" y1="208.45" x2="36.62" y2="208.45" stroke="#000" stroke-width="1.15" stroke-linecap="butt"/>
<line x1="39.3" y1="317.75" x2="35.62" y2="317.75" stroke="#000" stroke-width="1.15" stroke-linecap="butt"/>
<line x1="39.3" y1="293.46" x2="35.62" y2="293.46" stroke="#000" stroke-width="1.15" stroke-linecap="butt"/>
<line x1="39.3" y1="269.17" x2="35.62" y2="269.17" stroke="#000" stroke-width="1.15" stroke-linecap="butt"/>
<line x1="39.3" y1="244.88" x2="35.62" y2="244.88" stroke="#000" stroke-width="1.15" stroke-linecap="butt"/>
<line x1="39.3" y1="220.59" x2="35.62" y2="220.59" stroke="#000" stroke-width="1.15" stroke-linecap="butt"/>
<text x="34.5" y="320.86" font-size="11.3" text-anchor="end" fill="#000" >0.0</text>
<text x="34.5" y="296.56" font-size="11.3" text-anchor="end" fill="#000" >0.5</text>
<text x="34.5" y="272.27" font-size="11.3" text-anchor="end" fill="#000" >1.0</text>
<text x="34.5" y="247.98" font-size="11.3" text-anchor="end" fill="#000" >1.5</text>
<text x="34.5" y="223.69" font-size="11.3" text-anchor="end" fill="#000" >2.0</text>
<line x1="201.35" y1="329.9" x2="204.03" y2="329.9" stroke="#838d28" stroke-width="1.15" stroke-linecap="butt"/>
<line x1="201.35" y1="305.61" x2="204.03" y2="305.61" stroke="#838d28" stroke-width="1.15" stroke-linecap="butt"/>
<line x1="201.35" y1="281.32" x2="204.03" y2="281.32" stroke="#838d28" stroke-width="1.15" stroke-linecap="butt"/>
<line x1="201.35" y1="257.03" x2="204.03" y2="257.03" stroke="#838d28" stroke-width="1.15" stroke-linecap="butt"/>
<line x1="201.35" y1="232.74" x2="204.03" y2="232.74" stroke="#838d28" stroke-width="1.15" stroke-linecap="butt"/>
<line x1="201.35" y1="208.45" x2="204.03" y2="208.45" stroke="#838d28" stroke-width="1.15" stroke-linecap="butt"/>
<line x1="201.35" y1="317.75" x2="205.03" y2="317.75" stroke="#838d28" stroke-width="1.15" stroke-linecap="butt"/>
<line x1="201.35" y1="293.46" x2="205.03" y2="293.46" stroke="#838d28" stroke-width="1.15" stroke-linecap="butt"/>
<line x1="201.35" y1="269.17" x2="205.03" y2="269.17" stroke="#838d28" stroke-width="1.15" stroke-linecap="butt"/>
<line x1="201.35" y1="244.88" x2="205.03" y2="244.88" stroke="#838d28" stroke-width="1.15" stroke-linecap="butt"/>
<line x1="201.35" y1="220.59" x2="205.03" y2="220.59" stroke="#838d28" stroke-width="1.15" stroke-linecap="butt"/>
<text x="206.2" y="320.86" font-size="11.3" text-anchor="start" fill="#838d28" >0.0</text>
<text x="206.2" y="296.56" font-size="11.3" text-anchor="start" fill="#838d28" >0.2</text>
<text x="206.2" y="272.27" font-size="11.3" text-anchor="start" fill="#838d28" >0.4</text>
<text x="206.2" y="247.98" font-size="11.3" text-anchor="start" fill="#838d28" >0.6</text>
<text x="206.2" y="223.69" font-size="11.3" text-anchor="start" fill="#838d28" >0.8</text>
<text transform="translate(12.6,269.4) rotate(-90)" font-size="11.5" text-anchor="middle" fill="#000">Voltage [V]</text>
<text transform="translate(224.8,269.8) rotate(90)" font-size="11.5" text-anchor="middle" fill="#838d28">Current [mA]</text>
<text x="45.8" y="223.6" font-size="9.8" text-anchor="start" fill="#000" >SET</text>
<polyline points="40,308.04 79.81,308.04" fill="none" stroke="#000" stroke-width="2.4" stroke-linejoin="miter" stroke-linecap="butt"/>
<polyline points="79.81,308.04 79.81,220.59" fill="none" stroke="#000" stroke-width="1.5" stroke-linejoin="miter" stroke-linecap="butt"/>
<polyline points="79.61,220.59 125.19,220.59 125.19,221.32 160.84,221.32" fill="none" stroke="#000" stroke-width="2.4" stroke-linejoin="miter" stroke-linecap="butt"/>
<path d="M78.81,220.59a1.3,1.3 0 1,0 2.6,0a1.3,1.3 0 1,0 -2.6,0" fill="#000"/>
<polyline points="160.84,221.32 160.84,308.04" fill="none" stroke="#000" stroke-width="1.5" stroke-linejoin="miter" stroke-linecap="butt"/>
<polyline points="160.84,308.04 200.65,308.04" fill="none" stroke="#000" stroke-width="2.4" stroke-linejoin="miter" stroke-linecap="butt"/>
<polyline points="40.1,317.75 126.97,317.75" fill="none" stroke="#838d28" stroke-width="2.7" stroke-linejoin="round" stroke-linecap="butt"/>
<polyline points="126.97,317.75 127.05,257.03" fill="none" stroke="#838d28" stroke-width="1.3" stroke-linejoin="round" stroke-linecap="round"/>
<polyline points="127.05,257.03 127.21,251.56 127.78,248.53 128.83,246.71 130.05,245.74 132.48,245.13 133.29,245.35 134.1,245.78 134.91,245.68 135.72,245.96 136.53,245.97 137.34,245.36 138.15,245.22 138.96,245.92 139.77,245.18 140.58,244.98 141.39,245.56 142.2,244.86 143.01,245.06 143.82,244.56 144.63,244.62 145.44,244.07 146.25,244.53 147.06,244.79 147.87,244.52 148.68,244.84 149.49,244.91 150.3,244.47 151.11,245.34 151.92,245.36 152.74,245.24 153.55,245.12 154.36,246.08 155.17,245.78 155.98,246.07 156.79,246.23 157.6,246.02 158.41,246.14 159.22,245.49 160.03,245.75 160.51,245.13" fill="none" stroke="#838d28" stroke-width="2.7" stroke-linejoin="round" stroke-linecap="round"/>
<path d="M127.53,246.64a1.3,1.3 0 1,0 2.6,0a1.3,1.3 0 1,0 -2.6,0M131.18,245.65a1.3,1.3 0 1,0 2.6,0a1.3,1.3 0 1,0 -2.6,0M132.8,246.23a1.3,1.3 0 1,0 2.6,0a1.3,1.3 0 1,0 -2.6,0M134.42,245.47a1.3,1.3 0 1,0 2.6,0a1.3,1.3 0 1,0 -2.6,0M136.04,244.93a1.3,1.3 0 1,0 2.6,0a1.3,1.3 0 1,0 -2.6,0M137.66,245.58a1.3,1.3 0 1,0 2.6,0a1.3,1.3 0 1,0 -2.6,0M139.28,245.54a1.3,1.3 0 1,0 2.6,0a1.3,1.3 0 1,0 -2.6,0M140.9,244.78a1.3,1.3 0 1,0 2.6,0a1.3,1.3 0 1,0 -2.6,0M142.52,244.72a1.3,1.3 0 1,0 2.6,0a1.3,1.3 0 1,0 -2.6,0M144.14,243.83a1.3,1.3 0 1,0 2.6,0a1.3,1.3 0 1,0 -2.6,0M145.76,244.8a1.3,1.3 0 1,0 2.6,0a1.3,1.3 0 1,0 -2.6,0M147.38,244.71a1.3,1.3 0 1,0 2.6,0a1.3,1.3 0 1,0 -2.6,0M149,244.29a1.3,1.3 0 1,0 2.6,0a1.3,1.3 0 1,0 -2.6,0M150.62,245.46a1.3,1.3 0 1,0 2.6,0a1.3,1.3 0 1,0 -2.6,0M152.25,245.23a1.3,1.3 0 1,0 2.6,0a1.3,1.3 0 1,0 -2.6,0M153.87,246.26a1.3,1.3 0 1,0 2.6,0a1.3,1.3 0 1,0 -2.6,0M155.49,246.45a1.3,1.3 0 1,0 2.6,0a1.3,1.3 0 1,0 -2.6,0M157.11,246.66a1.3,1.3 0 1,0 2.6,0a1.3,1.3 0 1,0 -2.6,0M158.73,246.17a1.3,1.3 0 1,0 2.6,0a1.3,1.3 0 1,0 -2.6,0" fill="#838d28"/>
<polyline points="160.68,244.88 160.84,311.68 161.24,310.47" fill="none" stroke="#838d28" stroke-width="1.3" stroke-linejoin="round" stroke-linecap="round"/>
<polyline points="161.32,310.81 162.3,310.59 163.27,310.23 164.24,310.72 165.21,310.79 166.19,310.75 167.16,310.52 168.13,310.62 169.1,310.27 170.07,310.7 171.05,310.52 172.02,310.32 172.99,310.16 173.96,310.72 174.94,310.81 175.91,310.18 176.88,310.68 177.85,310.41 178.83,310.22 179.8,310.32 180.77,310.66 181.74,310.73 182.71,310.15 183.69,310.55 184.66,310.15 185.63,310.62 186.6,310.35 187.58,310.73 188.55,310.8 189.52,310.47 190.49,310.82 191.46,310.33 192.44,310.17 193.41,310.54 194.38,310.14 195.35,310.26 196.33,310.4 197.3,310.55 198.27,310.23 199.24,310.15 200.22,310.73 200.55,310.47" fill="none" stroke="#838d28" stroke-width="2.7" stroke-linejoin="round" stroke-linecap="butt"/>
<path d="M125.75,299.54a1.3,1.3 0 1,0 2.6,0a1.3,1.3 0 1,0 -2.6,0M125.75,315.33a1.3,1.3 0 1,0 2.6,0a1.3,1.3 0 1,0 -2.6,0M159.54,263.1a1.3,1.3 0 1,0 2.6,0a1.3,1.3 0 1,0 -2.6,0M159.54,312.9a1.3,1.3 0 1,0 2.6,0a1.3,1.3 0 1,0 -2.6,0" fill="#838d28"/>
<text x="243.2" y="196.7" font-size="11.9" text-anchor="start" fill="#000" >(e)</text>
<line x1="287.96" y1="330.6" x2="287.96" y2="333.28" stroke="#000" stroke-width="1.15" stroke-linecap="butt"/>
<line x1="328.49" y1="330.6" x2="328.49" y2="333.28" stroke="#000" stroke-width="1.15" stroke-linecap="butt"/>
<line x1="369.01" y1="330.6" x2="369.01" y2="333.28" stroke="#000" stroke-width="1.15" stroke-linecap="butt"/>
<line x1="409.54" y1="330.6" x2="409.54" y2="333.28" stroke="#000" stroke-width="1.15" stroke-linecap="butt"/>
<line x1="267.7" y1="330.6" x2="267.7" y2="334.28" stroke="#000" stroke-width="1.15" stroke-linecap="butt"/>
<line x1="308.23" y1="330.6" x2="308.23" y2="334.28" stroke="#000" stroke-width="1.15" stroke-linecap="butt"/>
<line x1="348.75" y1="330.6" x2="348.75" y2="334.28" stroke="#000" stroke-width="1.15" stroke-linecap="butt"/>
<line x1="389.27" y1="330.6" x2="389.27" y2="334.28" stroke="#000" stroke-width="1.15" stroke-linecap="butt"/>
<line x1="429.8" y1="330.6" x2="429.8" y2="334.28" stroke="#000" stroke-width="1.15" stroke-linecap="butt"/>
<text x="267.7" y="344" font-size="11.3" text-anchor="middle" fill="#000" >0</text>
<text x="308.23" y="344" font-size="11.3" text-anchor="middle" fill="#000" >50</text>
<text x="348.75" y="344" font-size="11.3" text-anchor="middle" fill="#000" >100</text>
<text x="389.27" y="344" font-size="11.3" text-anchor="middle" fill="#000" >150</text>
<text x="429.8" y="344" font-size="11.3" text-anchor="middle" fill="#000" >200</text>
<text x="348.75" y="358.3" font-size="11.5" text-anchor="middle" fill="#000" >Time [µs]</text>
<line x1="267.7" y1="304.49" x2="265.02" y2="304.49" stroke="#000" stroke-width="1.15" stroke-linecap="butt"/>
<line x1="267.7" y1="269.68" x2="265.02" y2="269.68" stroke="#000" stroke-width="1.15" stroke-linecap="butt"/>
<line x1="267.7" y1="234.86" x2="265.02" y2="234.86" stroke="#000" stroke-width="1.15" stroke-linecap="butt"/>
<line x1="267.7" y1="321.9" x2="264.02" y2="321.9" stroke="#000" stroke-width="1.15" stroke-linecap="butt"/>
<line x1="267.7" y1="287.08" x2="264.02" y2="287.08" stroke="#000" stroke-width="1.15" stroke-linecap="butt"/>
<line x1="267.7" y1="252.27" x2="264.02" y2="252.27" stroke="#000" stroke-width="1.15" stroke-linecap="butt"/>
<line x1="267.7" y1="217.45" x2="264.02" y2="217.45" stroke="#000" stroke-width="1.15" stroke-linecap="butt"/>
<text x="262.8" y="325" font-size="11.3" text-anchor="end" fill="#000" >0.0</text>
<text x="262.8" y="290.18" font-size="11.3" text-anchor="end" fill="#000" >0.4</text>
<text x="262.8" y="255.37" font-size="11.3" text-anchor="end" fill="#000" >0.8</text>
<text x="262.8" y="220.55" font-size="11.3" text-anchor="end" fill="#000" >1.2</text>
<line x1="429.8" y1="304.49" x2="432.48" y2="304.49" stroke="#838d28" stroke-width="1.15" stroke-linecap="butt"/>
<line x1="429.8" y1="269.68" x2="432.48" y2="269.68" stroke="#838d28" stroke-width="1.15" stroke-linecap="butt"/>
<line x1="429.8" y1="234.86" x2="432.48" y2="234.86" stroke="#838d28" stroke-width="1.15" stroke-linecap="butt"/>
<line x1="429.8" y1="321.9" x2="433.48" y2="321.9" stroke="#838d28" stroke-width="1.15" stroke-linecap="butt"/>
<line x1="429.8" y1="287.08" x2="433.48" y2="287.08" stroke="#838d28" stroke-width="1.15" stroke-linecap="butt"/>
<line x1="429.8" y1="252.27" x2="433.48" y2="252.27" stroke="#838d28" stroke-width="1.15" stroke-linecap="butt"/>
<line x1="429.8" y1="217.45" x2="433.48" y2="217.45" stroke="#838d28" stroke-width="1.15" stroke-linecap="butt"/>
<text x="434.8" y="325" font-size="11.3" text-anchor="start" fill="#838d28" >0.0</text>
<text x="434.8" y="290.18" font-size="11.3" text-anchor="start" fill="#838d28" >0.4</text>
<text x="434.8" y="255.37" font-size="11.3" text-anchor="start" fill="#838d28" >0.8</text>
<text x="434.8" y="220.55" font-size="11.3" text-anchor="start" fill="#838d28" >1.2</text>
<text transform="translate(244,269.6) rotate(-90)" font-size="11.5" text-anchor="middle" fill="#000">Voltage [V]</text>
<text transform="translate(453.2,269.8) rotate(90)" font-size="11.5" text-anchor="middle" fill="#838d28">Current [mA]</text>
<text x="273.9" y="223.8" font-size="9.6" text-anchor="start" fill="#000" >RESET</text>
<polyline points="268.4,305.36 308.47,305.36" fill="none" stroke="#000" stroke-width="2.3" stroke-linejoin="miter" stroke-linecap="butt"/>
<polyline points="308.47,305.36 308.47,239.21" fill="none" stroke="#000" stroke-width="1.3" stroke-linejoin="round" stroke-linecap="round"/>
<polyline points="308.47,238.78 309.85,237.73 311.47,236.78 313.9,235.91 317.95,235.38 324.44,235.03 348.75,234.86 389.27,235.03" fill="none" stroke="#000" stroke-width="2.5" stroke-linejoin="round" stroke-linecap="round"/>
<path d="M307.12,238.78a1.35,1.35 0 1,0 2.7,0a1.35,1.35 0 1,0 -2.7,0" fill="#000"/>
<polyline points="389.27,234.86 389.27,304.49" fill="none" stroke="#000" stroke-width="1.3" stroke-linejoin="round" stroke-linecap="round"/>
<polyline points="389.27,304.49 429.1,304.49" fill="none" stroke="#000" stroke-width="2.4" stroke-linejoin="miter" stroke-linecap="butt"/>
<path d="M388.12,302.75a1.4,1.4 0 1,0 2.8,0a1.4,1.4 0 1,0 -2.8,0" fill="#334"/>
<polyline points="268.5,293.9 308.7,293.9" fill="none" stroke="#838d28" stroke-width="2.5" stroke-linejoin="round" stroke-linecap="butt"/>
<polyline points="308.7,293.9 308.7,224" fill="none" stroke="#838d28" stroke-width="1.1" stroke-linejoin="round" stroke-linecap="round"/>
<polyline points="309.3,223.4 309.8,225 310.4,228 310.9,231.5 311.4,236 311.8,241" fill="none" stroke="#838d28" stroke-width="2.5" stroke-linejoin="round" stroke-linecap="round"/>
<polyline points="311.8,241 312.2,246.9 312.7,252 313.2,257.5 313.9,262.8 314.5,267.5 315.1,271.5 315.6,275.5 315.9,278.8 316.4,282.5 316.8,286 317.4,289 318,291.8 318.6,295 319.1,297.6 319.7,299.8 320.3,301.4 321.4,301 322.6,300.5 323.6,298.8 324.6,297.6 325.6,298.2 326.7,299.1 327.8,300.2 329,301.4 330.5,303.5 331.9,305.4 333.4,306.8 334.8,307.8 336.2,308.2 337.7,308.3 339.2,307.4 340.6,306.3 342.8,305.4 344.9,304.9 347,304.2 349.3,303.6 351,304.8 352.4,305.8 355,307.2 357.1,308.2 360,309.2 363.5,310 368,310.6 373,311.1 378,311.7 382.5,312.2 386,312.7 388.9,313.2 389.8,313.5" fill="none" stroke="#838d28" stroke-width="3.1" stroke-linejoin="round" stroke-linecap="round"/>
<path d="M310.12,236.48a1.45,1.45 0 1,0 2.9,0a1.45,1.45 0 1,0 -2.9,0M310.76,241.88a1.45,1.45 0 1,0 2.9,0a1.45,1.45 0 1,0 -2.9,0M311.09,247.74a1.45,1.45 0 1,0 2.9,0a1.45,1.45 0 1,0 -2.9,0M310.59,251.93a1.45,1.45 0 1,0 2.9,0a1.45,1.45 0 1,0 -2.9,0M312.37,257.8a1.45,1.45 0 1,0 2.9,0a1.45,1.45 0 1,0 -2.9,0M313.01,262.03a1.45,1.45 0 1,0 2.9,0a1.45,1.45 0 1,0 -2.9,0M313.01,266.99a1.45,1.45 0 1,0 2.9,0a1.45,1.45 0 1,0 -2.9,0M313.71,271.65a1.45,1.45 0 1,0 2.9,0a1.45,1.45 0 1,0 -2.9,0M313.47,274.93a1.45,1.45 0 1,0 2.9,0a1.45,1.45 0 1,0 -2.9,0M314.14,279.63a1.45,1.45 0 1,0 2.9,0a1.45,1.45 0 1,0 -2.9,0M315.32,281.82a1.45,1.45 0 1,0 2.9,0a1.45,1.45 0 1,0 -2.9,0M315.77,285.28a1.45,1.45 0 1,0 2.9,0a1.45,1.45 0 1,0 -2.9,0M316.11,288.25a1.45,1.45 0 1,0 2.9,0a1.45,1.45 0 1,0 -2.9,0M315.85,292.54a1.45,1.45 0 1,0 2.9,0a1.45,1.45 0 1,0 -2.9,0M316.74,294.43a1.45,1.45 0 1,0 2.9,0a1.45,1.45 0 1,0 -2.9,0M318.33,298.34a1.45,1.45 0 1,0 2.9,0a1.45,1.45 0 1,0 -2.9,0M317.96,300.72a1.45,1.45 0 1,0 2.9,0a1.45,1.45 0 1,0 -2.9,0M318.9,301.76a1.45,1.45 0 1,0 2.9,0a1.45,1.45 0 1,0 -2.9,0M319.54,301.88a1.45,1.45 0 1,0 2.9,0a1.45,1.45 0 1,0 -2.9,0M321.42,301.43a1.45,1.45 0 1,0 2.9,0a1.45,1.45 0 1,0 -2.9,0M322.7,298.4a1.45,1.45 0 1,0 2.9,0a1.45,1.45 0 1,0 -2.9,0M322.96,296.93a1.45,1.45 0 1,0 2.9,0a1.45,1.45 0 1,0 -2.9,0M323.65,297.33a1.45,1.45 0 1,0 2.9,0a1.45,1.45 0 1,0 -2.9,0M324.97,299.31a1.45,1.45 0 1,0 2.9,0a1.45,1.45 0 1,0 -2.9,0M325.65,300.56a1.45,1.45 0 1,0 2.9,0a1.45,1.45 0 1,0 -2.9,0M327.32,301.02a1.45,1.45 0 1,0 2.9,0a1.45,1.45 0 1,0 -2.9,0M329.5,303.46a1.45,1.45 0 1,0 2.9,0a1.45,1.45 0 1,0 -2.9,0M330.19,305.36a1.45,1.45 0 1,0 2.9,0a1.45,1.45 0 1,0 -2.9,0M332.24,305.91a1.45,1.45 0 1,0 2.9,0a1.45,1.45 0 1,0 -2.9,0M334.02,306.85a1.45,1.45 0 1,0 2.9,0a1.45,1.45 0 1,0 -2.9,0M335.1,308.89a1.45,1.45 0 1,0 2.9,0a1.45,1.45 0 1,0 -2.9,0M335.58,308.88a1.45,1.45 0 1,0 2.9,0a1.45,1.45 0 1,0 -2.9,0M337.56,307.56a1.45,1.45 0 1,0 2.9,0a1.45,1.45 0 1,0 -2.9,0M338.46,305.39a1.45,1.45 0 1,0 2.9,0a1.45,1.45 0 1,0 -2.9,0M340.9,306.31a1.45,1.45 0 1,0 2.9,0a1.45,1.45 0 1,0 -2.9,0M343.03,305.41a1.45,1.45 0 1,0 2.9,0a1.45,1.45 0 1,0 -2.9,0M346.15,305.08a1.45,1.45 0 1,0 2.9,0a1.45,1.45 0 1,0 -2.9,0M347.63,303.31a1.45,1.45 0 1,0 2.9,0a1.45,1.45 0 1,0 -2.9,0M349.58,305.35a1.45,1.45 0 1,0 2.9,0a1.45,1.45 0 1,0 -2.9,0M350.4,306.3a1.45,1.45 0 1,0 2.9,0a1.45,1.45 0 1,0 -2.9,0M353.97,307.92a1.45,1.45 0 1,0 2.9,0a1.45,1.45 0 1,0 -2.9,0M355,309.09a1.45,1.45 0 1,0 2.9,0a1.45,1.45 0 1,0 -2.9,0M357.98,308.88a1.45,1.45 0 1,0 2.9,0a1.45,1.45 0 1,0 -2.9,0M362.21,310.84a1.45,1.45 0 1,0 2.9,0a1.45,1.45 0 1,0 -2.9,0M366.33,311.45a1.45,1.45 0 1,0 2.9,0a1.45,1.45 0 1,0 -2.9,0M371.61,310.72a1.45,1.45 0 1,0 2.9,0a1.45,1.45 0 1,0 -2.9,0M376.29,311.05a1.45,1.45 0 1,0 2.9,0a1.45,1.45 0 1,0 -2.9,0M380.46,311.5a1.45,1.45 0 1,0 2.9,0a1.45,1.45 0 1,0 -2.9,0M384.81,313.69a1.45,1.45 0 1,0 2.9,0a1.45,1.45 0 1,0 -2.9,0M386.98,312.3a1.45,1.45 0 1,0 2.9,0a1.45,1.45 0 1,0 -2.9,0M389.03,313.57a1.45,1.45 0 1,0 2.9,0a1.45,1.45 0 1,0 -2.9,0" fill="#838d28"/>
<polyline points="390,313.5 390,281 390.1,320.3" fill="none" stroke="#838d28" stroke-width="1.2" stroke-linejoin="round" stroke-linecap="round"/>
<polyline points="390.6,320.34 391.9,320.24 393.2,320.46 394.5,320.6 395.8,320.37 397.1,320.35 398.4,320.13 399.7,320.65 401,320.12 402.3,320.4 403.6,320.6 404.9,320.18 406.2,320.54 407.5,320.67 408.8,320.48 410.1,320.57 411.4,320.16 412.7,320.36 414,320.19 415.3,320.61 416.6,320.28 417.9,320.37 419.2,320.7 420.5,320.61 421.8,320.69 423.1,320.37 424.4,320.39 425.7,320.54 427,320.39 428.3,320.27 429,320.4" fill="none" stroke="#838d28" stroke-width="2.6" stroke-linejoin="round" stroke-linecap="butt"/>
<path d="M388.7,281.4a1.3,1.3 0 1,0 2.6,0a1.3,1.3 0 1,0 -2.6,0M388.9,319.8a1.3,1.3 0 1,0 2.6,0a1.3,1.3 0 1,0 -2.6,0M307.4,293.9a1.3,1.3 0 1,0 2.6,0a1.3,1.3 0 1,0 -2.6,0" fill="#838d28"/>
<text x="471.5" y="196.8" font-size="11.9" text-anchor="start" fill="#000" >(f)</text>
<line x1="513.34" y1="329.5" x2="513.34" y2="332.18" stroke="#000" stroke-width="1.15" stroke-linecap="butt"/>
<line x1="553.81" y1="329.5" x2="553.81" y2="332.18" stroke="#000" stroke-width="1.15" stroke-linecap="butt"/>
<line x1="594.29" y1="329.5" x2="594.29" y2="332.18" stroke="#000" stroke-width="1.15" stroke-linecap="butt"/>
<line x1="634.76" y1="329.5" x2="634.76" y2="332.18" stroke="#000" stroke-width="1.15" stroke-linecap="butt"/>
<line x1="493.1" y1="329.5" x2="493.1" y2="333.18" stroke="#000" stroke-width="1.15" stroke-linecap="butt"/>
<line x1="533.58" y1="329.5" x2="533.58" y2="333.18" stroke="#000" stroke-width="1.15" stroke-linecap="butt"/>
<line x1="574.05" y1="329.5" x2="574.05" y2="333.18" stroke="#000" stroke-width="1.15" stroke-linecap="butt"/>
<line x1="614.52" y1="329.5" x2="614.52" y2="333.18" stroke="#000" stroke-width="1.15" stroke-linecap="butt"/>
<line x1="655" y1="329.5" x2="655" y2="333.18" stroke="#000" stroke-width="1.15" stroke-linecap="butt"/>
<text x="493.1" y="344" font-size="11.3" text-anchor="middle" fill="#000" >0</text>
<text x="533.58" y="344" font-size="11.3" text-anchor="middle" fill="#000" >50</text>
<text x="574.05" y="344" font-size="11.3" text-anchor="middle" fill="#000" >100</text>
<text x="614.52" y="344" font-size="11.3" text-anchor="middle" fill="#000" >150</text>
<text x="655" y="344" font-size="11.3" text-anchor="middle" fill="#000" >200</text>
<text x="574.05" y="358.3" font-size="11.5" text-anchor="middle" fill="#000" >Time [µs]</text>
<line x1="493.1" y1="329.5" x2="490.43" y2="329.5" stroke="#000" stroke-width="1.15" stroke-linecap="butt"/>
<line x1="493.1" y1="299.12" x2="490.43" y2="299.12" stroke="#000" stroke-width="1.15" stroke-linecap="butt"/>
<line x1="493.1" y1="268.75" x2="490.43" y2="268.75" stroke="#000" stroke-width="1.15" stroke-linecap="butt"/>
<line x1="493.1" y1="238.38" x2="490.43" y2="238.38" stroke="#000" stroke-width="1.15" stroke-linecap="butt"/>
<line x1="493.1" y1="208" x2="490.43" y2="208" stroke="#000" stroke-width="1.15" stroke-linecap="butt"/>
<line x1="493.1" y1="314.31" x2="489.43" y2="314.31" stroke="#000" stroke-width="1.15" stroke-linecap="butt"/>
<line x1="493.1" y1="283.94" x2="489.43" y2="283.94" stroke="#000" stroke-width="1.15" stroke-linecap="butt"/>
<line x1="493.1" y1="253.56" x2="489.43" y2="253.56" stroke="#000" stroke-width="1.15" stroke-linecap="butt"/>
<line x1="493.1" y1="223.19" x2="489.43" y2="223.19" stroke="#000" stroke-width="1.15" stroke-linecap="butt"/>
<text x="488.5" y="317.41" font-size="11.3" text-anchor="end" fill="#000" >0.0</text>
<text x="488.5" y="287.04" font-size="11.3" text-anchor="end" fill="#000" >0.4</text>
<text x="488.5" y="256.66" font-size="11.3" text-anchor="end" fill="#000" >0.8</text>
<text x="488.5" y="226.29" font-size="11.3" text-anchor="end" fill="#000" >1.2</text>
<line x1="655" y1="329.5" x2="657.67" y2="329.5" stroke="#838d28" stroke-width="1.15" stroke-linecap="butt"/>
<line x1="655" y1="299.12" x2="657.67" y2="299.12" stroke="#838d28" stroke-width="1.15" stroke-linecap="butt"/>
<line x1="655" y1="268.75" x2="657.67" y2="268.75" stroke="#838d28" stroke-width="1.15" stroke-linecap="butt"/>
<line x1="655" y1="238.38" x2="657.67" y2="238.38" stroke="#838d28" stroke-width="1.15" stroke-linecap="butt"/>
<line x1="655" y1="208" x2="657.67" y2="208" stroke="#838d28" stroke-width="1.15" stroke-linecap="butt"/>
<line x1="655" y1="314.31" x2="658.67" y2="314.31" stroke="#838d28" stroke-width="1.15" stroke-linecap="butt"/>
<line x1="655" y1="283.94" x2="658.67" y2="283.94" stroke="#838d28" stroke-width="1.15" stroke-linecap="butt"/>
<line x1="655" y1="253.56" x2="658.67" y2="253.56" stroke="#838d28" stroke-width="1.15" stroke-linecap="butt"/>
<line x1="655" y1="223.19" x2="658.67" y2="223.19" stroke="#838d28" stroke-width="1.15" stroke-linecap="butt"/>
<text x="660" y="317.41" font-size="11.3" text-anchor="start" fill="#838d28" >0</text>
<text x="660" y="287.04" font-size="11.3" text-anchor="start" fill="#838d28" >20</text>
<text x="660" y="256.66" font-size="11.3" text-anchor="start" fill="#838d28" >40</text>
<text x="660" y="226.29" font-size="11.3" text-anchor="start" fill="#838d28" >60</text>
<text transform="translate(470,269.2) rotate(-90)" font-size="11.5" text-anchor="middle" fill="#000">Power [mW]</text>
<text transform="translate(675,269) rotate(90)" font-size="11.5" text-anchor="middle" fill="#838d28">Energy [nJ]</text>
<text x="499.9" y="223.7" font-size="9.8" text-anchor="start" fill="#000" >SET</text>
<polyline points="493.8,314.31 580.2,314.31" fill="none" stroke="#000" stroke-width="1.6" stroke-linejoin="round" stroke-linecap="butt"/>
<polyline points="580.2,314.31 580.2,234.58" fill="none" stroke="#000" stroke-width="1.3" stroke-linejoin="round" stroke-linecap="round"/>
<polyline points="580.2,234.58 580.53,229.26 581.34,226.6 582.55,225.09 584.57,223.95 585.38,224.29 586.19,223.93 587,223.34 587.81,224.11 588.62,222.73 589.43,223.35 590.24,223.93 591.05,222.92 591.86,223.81 592.67,224.15 593.48,223.6 594.29,224.27 595.1,224.83 595.91,224.47 596.72,224.74 597.53,223.74 598.34,223.6 599.14,223.16 599.95,223.5 600.76,223.96 601.57,223.47 602.38,223.82 603.19,223.46 604,224.22 604.81,223.57 605.62,224.07 606.43,224.75 607.24,224.87 608.05,224.38 608.86,223.74 609.67,223.75 610.48,223.41 611.29,223.27 612.1,223.84 612.91,222.92 613.72,223.92 614.36,224.71" fill="none" stroke="#000" stroke-width="2.5" stroke-linejoin="round" stroke-linecap="round"/>
<polyline points="614.61,224.71 614.77,312.79" fill="none" stroke="#000" stroke-width="1.3" stroke-linejoin="round" stroke-linecap="round"/>
<polyline points="614.93,313.02 615.98,312.53 617.03,312.72 618.09,312.79 619.14,312.51 620.19,312.75 621.24,313.04 622.3,312.56 623.35,312.85 624.4,312.57 625.45,312.84 626.51,313.03 627.56,312.62 628.61,312.5 629.66,312.54 630.72,312.82 631.77,312.5 632.82,312.54 633.87,312.79 634.92,313.05 635.98,312.75 637.03,312.73 638.08,312.88 639.13,312.55 640.19,312.84 641.24,312.6 642.29,312.86 643.34,313.07 644.4,312.53 645.45,312.83 646.5,312.86 647.55,312.58 648.6,312.65 649.66,313.09 650.71,313.09 651.76,312.57 652.81,312.92 653.87,313.06 654.2,312.79" fill="none" stroke="#000" stroke-width="2.5" stroke-linejoin="round" stroke-linecap="butt"/>
<path d="M579,291.53a1.2,1.2 0 1,0 2.4,0a1.2,1.2 0 1,0 -2.4,0M579,239.13a1.2,1.2 0 1,0 2.4,0a1.2,1.2 0 1,0 -2.4,0M613.57,308.24a1.2,1.2 0 1,0 2.4,0a1.2,1.2 0 1,0 -2.4,0" fill="#000"/>
<path d="M532.58,313.4a1.0,1.0 0 1,0 2,0a1.0,1.0 0 1,0 -2,0M560.91,313.4a1.0,1.0 0 1,0 2,0a1.0,1.0 0 1,0 -2,0M544.72,313.55a1.0,1.0 0 1,0 2,0a1.0,1.0 0 1,0 -2,0" fill="#000"/>
<polyline points="493.9,314.31 580.45,314.31 614.77,237.71 654.2,236.86" fill="none" stroke="#838d28" stroke-width="3.1" stroke-linejoin="miter" stroke-linecap="butt"/>
<line x1="38.83" y1="142" x2="201.98" y2="142" stroke="#000" stroke-width="1.35" stroke-linecap="butt"/>
<line x1="38.83" y1="20.35" x2="201.98" y2="20.35" stroke="#000" stroke-width="1.35" stroke-linecap="butt"/>
<line x1="39.5" y1="20.35" x2="39.5" y2="142" stroke="#000" stroke-width="1.35" stroke-linecap="butt"/>
<line x1="201.3" y1="20.35" x2="201.3" y2="142" stroke="#000" stroke-width="1.35" stroke-linecap="butt"/>
<line x1="266.22" y1="142.4" x2="429.68" y2="142.4" stroke="#000" stroke-width="1.35" stroke-linecap="butt"/>
<line x1="266.22" y1="20.75" x2="429.68" y2="20.75" stroke="#000" stroke-width="1.35" stroke-linecap="butt"/>
<line x1="266.9" y1="20.75" x2="266.9" y2="142.4" stroke="#000" stroke-width="1.35" stroke-linecap="butt"/>
<line x1="429" y1="20.75" x2="429" y2="142.4" stroke="#000" stroke-width="1.35" stroke-linecap="butt"/>
<line x1="493.22" y1="142.4" x2="656.67" y2="142.4" stroke="#000" stroke-width="1.35" stroke-linecap="butt"/>
<line x1="493.22" y1="20.7" x2="656.67" y2="20.7" stroke="#000" stroke-width="1.35" stroke-linecap="butt"/>
<line x1="493.9" y1="20.7" x2="493.9" y2="142.4" stroke="#000" stroke-width="1.35" stroke-linecap="butt"/>
<line x1="656" y1="20.7" x2="656" y2="142.4" stroke="#000" stroke-width="1.35" stroke-linecap="butt"/>
<line x1="38.62" y1="329.9" x2="202.03" y2="329.9" stroke="#000" stroke-width="1.35" stroke-linecap="butt"/>
<line x1="38.62" y1="208.45" x2="202.03" y2="208.45" stroke="#000" stroke-width="1.35" stroke-linecap="butt"/>
<line x1="39.3" y1="208.45" x2="39.3" y2="329.9" stroke="#000" stroke-width="1.35" stroke-linecap="butt"/>
<line x1="201.35" y1="208.45" x2="201.35" y2="329.9" stroke="#838d28" stroke-width="1.35" stroke-linecap="butt"/>
<line x1="267.02" y1="330.6" x2="430.48" y2="330.6" stroke="#000" stroke-width="1.35" stroke-linecap="butt"/>
<line x1="267.02" y1="208.75" x2="430.48" y2="208.75" stroke="#000" stroke-width="1.35" stroke-linecap="butt"/>
<line x1="267.7" y1="208.75" x2="267.7" y2="330.6" stroke="#000" stroke-width="1.35" stroke-linecap="butt"/>
<line x1="429.8" y1="208.75" x2="429.8" y2="330.6" stroke="#838d28" stroke-width="1.35" stroke-linecap="butt"/>
<line x1="492.43" y1="329.5" x2="655.67" y2="329.5" stroke="#000" stroke-width="1.35" stroke-linecap="butt"/>
<line x1="492.43" y1="208" x2="655.67" y2="208" stroke="#000" stroke-width="1.35" stroke-linecap="butt"/>
<line x1="493.1" y1="208" x2="493.1" y2="329.5" stroke="#000" stroke-width="1.35" stroke-linecap="butt"/>
<line x1="655" y1="208" x2="655" y2="329.5" stroke="#838d28" stroke-width="1.35" stroke-linecap="butt"/>
</svg></body></html>
